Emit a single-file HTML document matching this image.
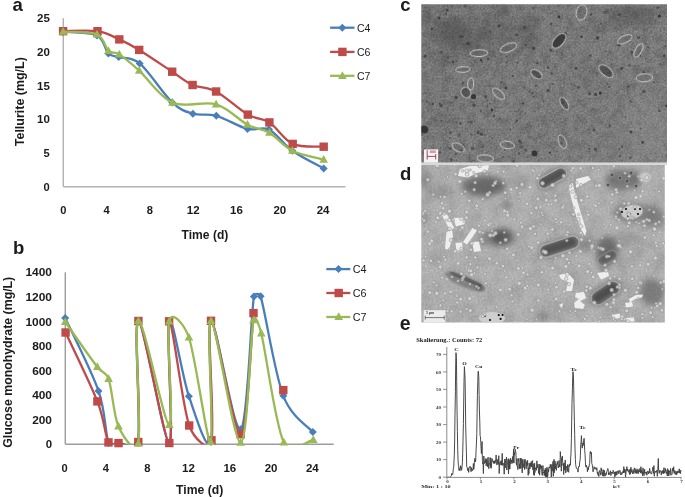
<!DOCTYPE html>
<html><head><meta charset="utf-8"><style>
html,body{margin:0;padding:0;background:#fff;}
body{width:685px;height:497px;overflow:hidden;position:relative;font-family:"Liberation Sans",sans-serif;}
svg{position:absolute;left:0;top:0;will-change:transform;}
</style></head><body>
<svg width="685" height="497" viewBox="0 0 685 497">
<defs><filter id="gsoft" x="0" y="0" width="100%" height="100%"><feGaussianBlur stdDeviation="0.4"/></filter></defs>
<rect x="0" y="0" width="685" height="497" fill="#fff"/>
<g filter="url(#gsoft)">
<rect x="0" y="0" width="685" height="497" fill="#fff"/>
<clipPath id="clipA"><rect x="63.3" y="12.2" width="282.2" height="174.5"/></clipPath>
<line x1="63.3" y1="18.2" x2="63.3" y2="186.7" stroke="#b2b2b2" stroke-width="1.45"/>
<line x1="63.3" y1="186.7" x2="345.5" y2="186.7" stroke="#b2b2b2" stroke-width="1.45"/>
<g clip-path="url(#clipA)"><path d="M63.10,31.70 C68.75,32.32 89.45,31.77 97.00,35.40 C104.55,39.03 104.78,49.88 108.40,53.50 C112.02,57.12 113.50,55.45 118.70,57.10 C123.92,58.75 131.33,56.32 139.70,63.40 C148.62,70.95 163.33,94.02 172.20,102.40 C180.77,110.50 185.55,111.47 192.90,113.70 C200.25,115.93 207.20,113.27 216.30,115.80 C225.40,118.33 238.72,126.62 247.50,128.90 C256.28,131.18 261.53,125.87 269.00,129.50 C276.47,133.13 283.18,144.22 292.30,150.70 C301.42,157.18 318.47,165.45 323.70,168.40" fill="none" stroke="#4a7ebb" stroke-width="2.3" stroke-linejoin="round" stroke-linecap="round"/></g>
<path d="M63.10,27.70 L67.10,31.70 L63.10,35.70 L59.10,31.70 Z" fill="#4a7ebb"/>
<path d="M97.00,31.40 L101.00,35.40 L97.00,39.40 L93.00,35.40 Z" fill="#4a7ebb"/>
<path d="M108.40,49.50 L112.40,53.50 L108.40,57.50 L104.40,53.50 Z" fill="#4a7ebb"/>
<path d="M118.70,53.10 L122.70,57.10 L118.70,61.10 L114.70,57.10 Z" fill="#4a7ebb"/>
<path d="M139.70,59.40 L143.70,63.40 L139.70,67.40 L135.70,63.40 Z" fill="#4a7ebb"/>
<path d="M172.20,98.40 L176.20,102.40 L172.20,106.40 L168.20,102.40 Z" fill="#4a7ebb"/>
<path d="M192.90,109.70 L196.90,113.70 L192.90,117.70 L188.90,113.70 Z" fill="#4a7ebb"/>
<path d="M216.30,111.80 L220.30,115.80 L216.30,119.80 L212.30,115.80 Z" fill="#4a7ebb"/>
<path d="M247.50,124.90 L251.50,128.90 L247.50,132.90 L243.50,128.90 Z" fill="#4a7ebb"/>
<path d="M269.00,125.50 L273.00,129.50 L269.00,133.50 L265.00,129.50 Z" fill="#4a7ebb"/>
<path d="M292.30,146.70 L296.30,150.70 L292.30,154.70 L288.30,150.70 Z" fill="#4a7ebb"/>
<path d="M323.70,164.40 L327.70,168.40 L323.70,172.40 L319.70,168.40 Z" fill="#4a7ebb"/>
<g clip-path="url(#clipA)"><path d="M63.10,31.20 C68.83,31.20 88.13,29.83 97.50,31.20 C106.87,32.57 112.35,36.28 119.30,39.40 C126.25,42.52 130.38,44.52 139.20,49.90 C148.02,55.28 163.30,65.85 172.20,71.70 C181.10,77.55 185.28,81.70 192.60,85.00 C199.92,88.30 206.90,86.57 216.10,91.50 C225.30,96.43 238.92,109.45 247.80,114.60 C256.68,119.75 261.92,117.52 269.40,122.40 C276.88,127.28 283.65,139.85 292.70,143.90 C301.75,147.95 318.53,146.23 323.70,146.70" fill="none" stroke="#be4b48" stroke-width="2.3" stroke-linejoin="round" stroke-linecap="round"/></g>
<rect x="58.90" y="27.00" width="8.40" height="8.40" fill="#be4b48"/>
<rect x="93.30" y="27.00" width="8.40" height="8.40" fill="#be4b48"/>
<rect x="115.10" y="35.20" width="8.40" height="8.40" fill="#be4b48"/>
<rect x="135.00" y="45.70" width="8.40" height="8.40" fill="#be4b48"/>
<rect x="168.00" y="67.50" width="8.40" height="8.40" fill="#be4b48"/>
<rect x="188.40" y="80.80" width="8.40" height="8.40" fill="#be4b48"/>
<rect x="211.90" y="87.30" width="8.40" height="8.40" fill="#be4b48"/>
<rect x="243.60" y="110.40" width="8.40" height="8.40" fill="#be4b48"/>
<rect x="265.20" y="118.20" width="8.40" height="8.40" fill="#be4b48"/>
<rect x="288.50" y="139.70" width="8.40" height="8.40" fill="#be4b48"/>
<rect x="319.50" y="142.50" width="8.40" height="8.40" fill="#be4b48"/>
<g clip-path="url(#clipA)"><path d="M63.10,31.70 C68.75,32.17 89.45,31.32 97.00,34.50 C104.55,37.68 104.68,47.48 108.40,50.80 C112.12,54.12 114.48,51.29 119.30,54.40 C124.43,57.72 130.35,62.67 139.20,70.70 C148.05,78.73 159.58,97.00 172.40,102.60 C185.22,108.20 203.58,100.62 216.10,104.30 C228.62,107.98 238.62,119.97 247.50,124.70 C256.38,129.43 261.93,128.37 269.40,132.70 C276.87,137.03 283.25,146.22 292.30,150.70 C301.35,155.18 318.47,158.12 323.70,159.60" fill="none" stroke="#98b954" stroke-width="2.3" stroke-linejoin="round" stroke-linecap="round"/></g>
<path d="M63.10,27.06 L67.40,34.80 L58.80,34.80 Z" fill="#98b954"/>
<path d="M97.00,29.86 L101.30,37.60 L92.70,37.60 Z" fill="#98b954"/>
<path d="M108.40,46.16 L112.70,53.90 L104.10,53.90 Z" fill="#98b954"/>
<path d="M119.30,49.76 L123.60,57.50 L115.00,57.50 Z" fill="#98b954"/>
<path d="M139.20,66.06 L143.50,73.80 L134.90,73.80 Z" fill="#98b954"/>
<path d="M172.40,97.96 L176.70,105.70 L168.10,105.70 Z" fill="#98b954"/>
<path d="M216.10,99.66 L220.40,107.40 L211.80,107.40 Z" fill="#98b954"/>
<path d="M247.50,120.06 L251.80,127.80 L243.20,127.80 Z" fill="#98b954"/>
<path d="M269.40,128.06 L273.70,135.80 L265.10,135.80 Z" fill="#98b954"/>
<path d="M292.30,146.06 L296.60,153.80 L288.00,153.80 Z" fill="#98b954"/>
<path d="M323.70,154.96 L328.00,162.70 L319.40,162.70 Z" fill="#98b954"/>
<text x="49.80" y="190.80" font-family="Liberation Sans" font-size="11.50" font-weight="bold" text-anchor="end" fill="#1a1a1a" textLength="6.20" lengthAdjust="spacingAndGlyphs" >0</text>
<text x="49.80" y="157.10" font-family="Liberation Sans" font-size="11.50" font-weight="bold" text-anchor="end" fill="#1a1a1a" textLength="6.20" lengthAdjust="spacingAndGlyphs" >5</text>
<text x="49.80" y="123.40" font-family="Liberation Sans" font-size="11.50" font-weight="bold" text-anchor="end" fill="#1a1a1a" textLength="12.80" lengthAdjust="spacingAndGlyphs" >10</text>
<text x="49.80" y="89.70" font-family="Liberation Sans" font-size="11.50" font-weight="bold" text-anchor="end" fill="#1a1a1a" textLength="12.80" lengthAdjust="spacingAndGlyphs" >15</text>
<text x="49.80" y="56.00" font-family="Liberation Sans" font-size="11.50" font-weight="bold" text-anchor="end" fill="#1a1a1a" textLength="12.80" lengthAdjust="spacingAndGlyphs" >20</text>
<text x="49.80" y="22.30" font-family="Liberation Sans" font-size="11.50" font-weight="bold" text-anchor="end" fill="#1a1a1a" textLength="12.80" lengthAdjust="spacingAndGlyphs" >25</text>
<text x="63.40" y="213.60" font-family="Liberation Sans" font-size="11.50" font-weight="bold" text-anchor="middle" fill="#1a1a1a" textLength="6.20" lengthAdjust="spacingAndGlyphs" >0</text>
<text x="106.68" y="213.60" font-family="Liberation Sans" font-size="11.50" font-weight="bold" text-anchor="middle" fill="#1a1a1a" textLength="6.20" lengthAdjust="spacingAndGlyphs" >4</text>
<text x="149.96" y="213.60" font-family="Liberation Sans" font-size="11.50" font-weight="bold" text-anchor="middle" fill="#1a1a1a" textLength="6.20" lengthAdjust="spacingAndGlyphs" >8</text>
<text x="193.24" y="213.60" font-family="Liberation Sans" font-size="11.50" font-weight="bold" text-anchor="middle" fill="#1a1a1a" textLength="12.80" lengthAdjust="spacingAndGlyphs" >12</text>
<text x="236.52" y="213.60" font-family="Liberation Sans" font-size="11.50" font-weight="bold" text-anchor="middle" fill="#1a1a1a" textLength="12.80" lengthAdjust="spacingAndGlyphs" >16</text>
<text x="279.80" y="213.60" font-family="Liberation Sans" font-size="11.50" font-weight="bold" text-anchor="middle" fill="#1a1a1a" textLength="12.80" lengthAdjust="spacingAndGlyphs" >20</text>
<text x="323.08" y="213.60" font-family="Liberation Sans" font-size="11.50" font-weight="bold" text-anchor="middle" fill="#1a1a1a" textLength="12.80" lengthAdjust="spacingAndGlyphs" >24</text>
<text x="181.60" y="239.30" font-family="Liberation Sans" font-size="12.20" font-weight="bold" text-anchor="start" fill="#1a1a1a" textLength="46.70" lengthAdjust="spacingAndGlyphs" >Time (d)</text>
<text x="0.00" y="0.00" font-family="Liberation Sans" font-size="12.20" font-weight="bold" text-anchor="middle" fill="#1a1a1a" textLength="89.00" lengthAdjust="spacingAndGlyphs" transform="translate(24.2,101.7) rotate(-90)">Tellurite (mg/L)</text>
<line x1="330.1" y1="27.7" x2="354.5" y2="27.7" stroke="#4a7ebb" stroke-width="2.3"/>
<path d="M342.30,23.70 L346.30,27.70 L342.30,31.70 L338.30,27.70 Z" fill="#4a7ebb"/>
<text x="356.90" y="31.60" font-family="Liberation Sans" font-size="11.00" font-weight="normal" text-anchor="start" fill="#1a1a1a" textLength="13.50" lengthAdjust="spacingAndGlyphs" >C4</text>
<line x1="330.1" y1="51.9" x2="354.5" y2="51.9" stroke="#be4b48" stroke-width="2.3"/>
<rect x="338.20" y="47.70" width="8.40" height="8.40" fill="#be4b48"/>
<text x="356.90" y="55.80" font-family="Liberation Sans" font-size="11.00" font-weight="normal" text-anchor="start" fill="#1a1a1a" textLength="13.50" lengthAdjust="spacingAndGlyphs" >C6</text>
<line x1="330.1" y1="75.8" x2="354.5" y2="75.8" stroke="#98b954" stroke-width="2.3"/>
<path d="M342.40,71.16 L346.70,78.90 L338.10,78.90 Z" fill="#98b954"/>
<text x="356.90" y="79.70" font-family="Liberation Sans" font-size="11.00" font-weight="normal" text-anchor="start" fill="#1a1a1a" textLength="13.50" lengthAdjust="spacingAndGlyphs" >C7</text>
<text x="12.40" y="10.70" font-family="Liberation Sans" font-size="18.50" font-weight="bold" text-anchor="start" fill="#1a1a1a" >a</text>
<clipPath id="clipB"><rect x="65.3" y="266.3" width="268.4" height="177.9"/></clipPath>
<line x1="65.3" y1="272.3" x2="65.3" y2="444.2" stroke="#9c9c9c" stroke-width="1.45"/>
<line x1="65.3" y1="444.2" x2="333.7" y2="444.2" stroke="#9c9c9c" stroke-width="1.45"/>
<g clip-path="url(#clipB)"><path d="M65.20,318.00 C70.75,330.15 91.27,370.07 98.50,390.90 C105.73,411.73 105.25,434.32 108.60,443.00 C110.40,447.66 113.70,443.00 118.60,443.00 C123.50,443.00 136.45,452.57 138.00,443.00 C141.30,422.67 133.20,321.00 138.40,321.00 C143.60,321.00 164.07,443.00 169.20,443.00 C174.33,443.00 165.92,328.80 169.20,321.00 C172.48,313.20 181.93,376.03 188.90,396.20 C195.87,416.37 207.32,454.53 211.00,442.00 C214.68,429.47 206.07,323.12 211.00,321.00 C215.93,318.88 233.45,433.37 240.60,429.30 C247.75,425.23 250.57,318.78 253.90,296.60 C254.40,293.28 259.65,292.98 260.60,296.20 C265.50,312.73 274.60,373.17 283.30,395.80 C291.68,417.59 307.88,425.97 312.80,432.00" fill="none" stroke="#4a7ebb" stroke-width="2.3" stroke-linejoin="round" stroke-linecap="round"/></g>
<path d="M65.20,314.00 L69.20,318.00 L65.20,322.00 L61.20,318.00 Z" fill="#4a7ebb"/>
<path d="M98.50,386.90 L102.50,390.90 L98.50,394.90 L94.50,390.90 Z" fill="#4a7ebb"/>
<path d="M108.60,439.00 L112.60,443.00 L108.60,447.00 L104.60,443.00 Z" fill="#4a7ebb"/>
<path d="M118.60,439.00 L122.60,443.00 L118.60,447.00 L114.60,443.00 Z" fill="#4a7ebb"/>
<path d="M138.00,439.00 L142.00,443.00 L138.00,447.00 L134.00,443.00 Z" fill="#4a7ebb"/>
<path d="M138.40,317.00 L142.40,321.00 L138.40,325.00 L134.40,321.00 Z" fill="#4a7ebb"/>
<path d="M169.20,439.00 L173.20,443.00 L169.20,447.00 L165.20,443.00 Z" fill="#4a7ebb"/>
<path d="M169.20,317.00 L173.20,321.00 L169.20,325.00 L165.20,321.00 Z" fill="#4a7ebb"/>
<path d="M188.90,392.20 L192.90,396.20 L188.90,400.20 L184.90,396.20 Z" fill="#4a7ebb"/>
<path d="M211.00,438.00 L215.00,442.00 L211.00,446.00 L207.00,442.00 Z" fill="#4a7ebb"/>
<path d="M211.00,317.00 L215.00,321.00 L211.00,325.00 L207.00,321.00 Z" fill="#4a7ebb"/>
<path d="M240.60,425.30 L244.60,429.30 L240.60,433.30 L236.60,429.30 Z" fill="#4a7ebb"/>
<path d="M253.90,292.60 L257.90,296.60 L253.90,300.60 L249.90,296.60 Z" fill="#4a7ebb"/>
<path d="M260.60,292.20 L264.60,296.20 L260.60,300.20 L256.60,296.20 Z" fill="#4a7ebb"/>
<path d="M283.30,391.80 L287.30,395.80 L283.30,399.80 L279.30,395.80 Z" fill="#4a7ebb"/>
<path d="M312.80,428.00 L316.80,432.00 L312.80,436.00 L308.80,432.00 Z" fill="#4a7ebb"/>
<g clip-path="url(#clipB)"><path d="M65.60,332.50 C70.90,343.98 90.25,383.08 97.40,401.40 C104.55,419.72 104.98,435.45 108.50,442.40 C110.76,446.87 113.53,443.17 118.50,443.10 C123.47,443.03 136.71,451.79 138.30,442.00 C141.62,421.65 133.23,320.83 138.40,321.00 C143.57,321.17 164.18,442.95 169.30,443.00 C174.42,443.05 165.78,324.22 169.10,321.30 C172.42,318.38 182.13,405.67 189.20,425.50 C193.69,438.11 208.77,453.40 211.50,440.30 C215.13,422.85 206.15,321.82 211.00,320.80 C215.85,319.78 233.52,435.48 240.60,434.20 C247.68,432.92 251.35,333.28 253.50,313.10" fill="none" stroke="#be4b48" stroke-width="2.3" stroke-linejoin="round" stroke-linecap="round"/></g>
<rect x="61.40" y="328.30" width="8.40" height="8.40" fill="#be4b48"/>
<rect x="93.20" y="397.20" width="8.40" height="8.40" fill="#be4b48"/>
<rect x="104.30" y="438.20" width="8.40" height="8.40" fill="#be4b48"/>
<rect x="114.30" y="438.90" width="8.40" height="8.40" fill="#be4b48"/>
<rect x="134.10" y="437.80" width="8.40" height="8.40" fill="#be4b48"/>
<rect x="134.20" y="316.80" width="8.40" height="8.40" fill="#be4b48"/>
<rect x="165.10" y="438.80" width="8.40" height="8.40" fill="#be4b48"/>
<rect x="164.90" y="317.10" width="8.40" height="8.40" fill="#be4b48"/>
<rect x="185.00" y="421.30" width="8.40" height="8.40" fill="#be4b48"/>
<rect x="207.30" y="436.10" width="8.40" height="8.40" fill="#be4b48"/>
<rect x="206.80" y="316.60" width="8.40" height="8.40" fill="#be4b48"/>
<rect x="236.40" y="430.00" width="8.40" height="8.40" fill="#be4b48"/>
<rect x="249.30" y="308.90" width="8.40" height="8.40" fill="#be4b48"/>
<rect x="279.10" y="385.90" width="8.40" height="8.40" fill="#be4b48"/>
<g clip-path="url(#clipB)"><path d="M65.20,322.00 C70.55,329.50 90.07,357.53 97.30,367.00 C102.26,373.49 105.86,371.10 108.60,378.80 C112.13,388.72 113.55,415.75 118.50,426.50 C123.45,437.25 135.89,456.06 138.30,443.30 C141.62,425.72 133.23,324.05 138.40,321.00 C143.57,317.95 164.17,424.95 169.30,425.00 C174.43,425.05 165.93,335.88 169.20,321.30 C171.99,308.86 184.75,325.44 188.90,337.50 C195.82,357.62 207.02,444.75 210.70,442.00 C214.38,439.25 206.02,320.88 211.00,321.00 C215.98,321.12 233.52,442.85 240.60,442.70 C247.68,442.55 250.05,338.30 253.50,320.10 C254.94,312.48 259.44,325.98 261.30,333.50 C266.35,353.88 275.13,424.65 283.80,442.40 C290.29,455.70 308.38,440.40 313.30,440.00" fill="none" stroke="#98b954" stroke-width="2.3" stroke-linejoin="round" stroke-linecap="round"/></g>
<path d="M65.20,317.36 L69.50,325.10 L60.90,325.10 Z" fill="#98b954"/>
<path d="M97.30,362.36 L101.60,370.10 L93.00,370.10 Z" fill="#98b954"/>
<path d="M108.60,374.16 L112.90,381.90 L104.30,381.90 Z" fill="#98b954"/>
<path d="M118.50,421.86 L122.80,429.60 L114.20,429.60 Z" fill="#98b954"/>
<path d="M138.30,438.66 L142.60,446.40 L134.00,446.40 Z" fill="#98b954"/>
<path d="M138.40,316.36 L142.70,324.10 L134.10,324.10 Z" fill="#98b954"/>
<path d="M169.30,420.36 L173.60,428.10 L165.00,428.10 Z" fill="#98b954"/>
<path d="M169.20,316.66 L173.50,324.40 L164.90,324.40 Z" fill="#98b954"/>
<path d="M188.90,332.86 L193.20,340.60 L184.60,340.60 Z" fill="#98b954"/>
<path d="M210.70,437.36 L215.00,445.10 L206.40,445.10 Z" fill="#98b954"/>
<path d="M211.00,316.36 L215.30,324.10 L206.70,324.10 Z" fill="#98b954"/>
<path d="M240.60,438.06 L244.90,445.80 L236.30,445.80 Z" fill="#98b954"/>
<path d="M253.50,315.46 L257.80,323.20 L249.20,323.20 Z" fill="#98b954"/>
<path d="M261.30,328.86 L265.60,336.60 L257.00,336.60 Z" fill="#98b954"/>
<path d="M283.80,437.76 L288.10,445.50 L279.50,445.50 Z" fill="#98b954"/>
<path d="M313.30,435.36 L317.60,443.10 L309.00,443.10 Z" fill="#98b954"/>
<text x="52.00" y="448.30" font-family="Liberation Sans" font-size="11.50" font-weight="bold" text-anchor="end" fill="#1a1a1a" textLength="6.35" lengthAdjust="spacingAndGlyphs" >0</text>
<text x="52.00" y="423.74" font-family="Liberation Sans" font-size="11.50" font-weight="bold" text-anchor="end" fill="#1a1a1a" textLength="19.85" lengthAdjust="spacingAndGlyphs" >200</text>
<text x="52.00" y="399.19" font-family="Liberation Sans" font-size="11.50" font-weight="bold" text-anchor="end" fill="#1a1a1a" textLength="19.85" lengthAdjust="spacingAndGlyphs" >400</text>
<text x="52.00" y="374.63" font-family="Liberation Sans" font-size="11.50" font-weight="bold" text-anchor="end" fill="#1a1a1a" textLength="19.85" lengthAdjust="spacingAndGlyphs" >600</text>
<text x="52.00" y="350.07" font-family="Liberation Sans" font-size="11.50" font-weight="bold" text-anchor="end" fill="#1a1a1a" textLength="19.85" lengthAdjust="spacingAndGlyphs" >800</text>
<text x="52.00" y="325.51" font-family="Liberation Sans" font-size="11.50" font-weight="bold" text-anchor="end" fill="#1a1a1a" textLength="26.60" lengthAdjust="spacingAndGlyphs" >1000</text>
<text x="52.00" y="300.96" font-family="Liberation Sans" font-size="11.50" font-weight="bold" text-anchor="end" fill="#1a1a1a" textLength="26.60" lengthAdjust="spacingAndGlyphs" >1200</text>
<text x="52.00" y="276.40" font-family="Liberation Sans" font-size="11.50" font-weight="bold" text-anchor="end" fill="#1a1a1a" textLength="26.60" lengthAdjust="spacingAndGlyphs" >1400</text>
<text x="64.70" y="471.60" font-family="Liberation Sans" font-size="11.50" font-weight="bold" text-anchor="middle" fill="#1a1a1a" textLength="6.20" lengthAdjust="spacingAndGlyphs" >0</text>
<text x="105.97" y="471.60" font-family="Liberation Sans" font-size="11.50" font-weight="bold" text-anchor="middle" fill="#1a1a1a" textLength="6.20" lengthAdjust="spacingAndGlyphs" >4</text>
<text x="147.24" y="471.60" font-family="Liberation Sans" font-size="11.50" font-weight="bold" text-anchor="middle" fill="#1a1a1a" textLength="6.20" lengthAdjust="spacingAndGlyphs" >8</text>
<text x="188.51" y="471.60" font-family="Liberation Sans" font-size="11.50" font-weight="bold" text-anchor="middle" fill="#1a1a1a" textLength="12.80" lengthAdjust="spacingAndGlyphs" >12</text>
<text x="229.78" y="471.60" font-family="Liberation Sans" font-size="11.50" font-weight="bold" text-anchor="middle" fill="#1a1a1a" textLength="12.80" lengthAdjust="spacingAndGlyphs" >16</text>
<text x="271.05" y="471.60" font-family="Liberation Sans" font-size="11.50" font-weight="bold" text-anchor="middle" fill="#1a1a1a" textLength="12.80" lengthAdjust="spacingAndGlyphs" >20</text>
<text x="312.32" y="471.60" font-family="Liberation Sans" font-size="11.50" font-weight="bold" text-anchor="middle" fill="#1a1a1a" textLength="12.80" lengthAdjust="spacingAndGlyphs" >24</text>
<text x="176.10" y="493.60" font-family="Liberation Sans" font-size="12.20" font-weight="bold" text-anchor="start" fill="#1a1a1a" textLength="47.20" lengthAdjust="spacingAndGlyphs" >Time (d)</text>
<text x="0.00" y="0.00" font-family="Liberation Sans" font-size="12.20" font-weight="bold" text-anchor="middle" fill="#1a1a1a" textLength="171.00" lengthAdjust="spacingAndGlyphs" transform="translate(12.4,362.3) rotate(-90)">Glucose monohydrate (mg/L)</text>
<line x1="326.3" y1="269.1" x2="350.3" y2="269.1" stroke="#4a7ebb" stroke-width="2.3"/>
<path d="M338.50,265.10 L342.50,269.10 L338.50,273.10 L334.50,269.10 Z" fill="#4a7ebb"/>
<text x="352.70" y="273.00" font-family="Liberation Sans" font-size="11.00" font-weight="normal" text-anchor="start" fill="#1a1a1a" textLength="13.80" lengthAdjust="spacingAndGlyphs" >C4</text>
<line x1="326.3" y1="293.0" x2="350.3" y2="293.0" stroke="#be4b48" stroke-width="2.3"/>
<rect x="334.50" y="288.80" width="8.40" height="8.40" fill="#be4b48"/>
<text x="352.70" y="296.90" font-family="Liberation Sans" font-size="11.00" font-weight="normal" text-anchor="start" fill="#1a1a1a" textLength="13.80" lengthAdjust="spacingAndGlyphs" >C6</text>
<line x1="326.3" y1="317.0" x2="350.3" y2="317.0" stroke="#98b954" stroke-width="2.3"/>
<path d="M338.70,312.36 L343.00,320.10 L334.40,320.10 Z" fill="#98b954"/>
<text x="352.70" y="320.90" font-family="Liberation Sans" font-size="11.00" font-weight="normal" text-anchor="start" fill="#1a1a1a" textLength="13.80" lengthAdjust="spacingAndGlyphs" >C7</text>
<text x="12.90" y="253.60" font-family="Liberation Sans" font-size="18.50" font-weight="bold" text-anchor="start" fill="#1a1a1a" >b</text>
<text x="400.30" y="10.90" font-family="Liberation Sans" font-size="18.50" font-weight="bold" text-anchor="start" fill="#1a1a1a" >c</text>
<text x="400.00" y="180.30" font-family="Liberation Sans" font-size="18.50" font-weight="bold" text-anchor="start" fill="#1a1a1a" >d</text>
<text x="399.80" y="329.90" font-family="Liberation Sans" font-size="19.50" font-weight="bold" text-anchor="start" fill="#1a1a1a" >e</text>
<defs><filter id="blurS" x="-5%" y="-5%" width="110%" height="110%"><feGaussianBlur stdDeviation="0.35"/></filter><filter id="bl03" x="-20%" y="-20%" width="140%" height="140%"><feGaussianBlur stdDeviation="0.35"/></filter>
<filter id="bl05" x="-30%" y="-30%" width="160%" height="160%"><feGaussianBlur stdDeviation="0.55"/></filter>
<filter id="bl1" x="-30%" y="-30%" width="160%" height="160%"><feGaussianBlur stdDeviation="1"/></filter>
<filter id="bl2" x="-40%" y="-40%" width="180%" height="180%"><feGaussianBlur stdDeviation="2"/></filter>
<filter id="bl3" x="-50%" y="-50%" width="200%" height="200%"><feGaussianBlur stdDeviation="3"/></filter>
<filter id="bl6" x="-60%" y="-60%" width="220%" height="220%"><feGaussianBlur stdDeviation="6"/></filter>
<linearGradient id="gradC" x1="0" y1="0" x2="1" y2="1"><stop offset="0" stop-color="#000" stop-opacity="0.06"/><stop offset="0.5" stop-color="#000" stop-opacity="0"/><stop offset="1" stop-color="#fff" stop-opacity="0.06"/></linearGradient>
<filter id="grainC" x="0" y="0" width="100%" height="100%" color-interpolation-filters="sRGB"><feTurbulence type="fractalNoise" baseFrequency="0.55" numOctaves="2" seed="2"/><feColorMatrix type="matrix" values="0.24 0 0 0 0.377  0.24 0 0 0 0.377  0.24 0 0 0 0.377  0 0 0 0 1"/><feGaussianBlur stdDeviation="0.65"/></filter>
<filter id="grainD" x="0" y="0" width="100%" height="100%" color-interpolation-filters="sRGB"><feTurbulence type="fractalNoise" baseFrequency="0.5" numOctaves="2" seed="4"/><feColorMatrix type="matrix" values="0.14 0 0 0 0.625  0.14 0 0 0 0.625  0.14 0 0 0 0.625  0 0 0 0 1"/><feGaussianBlur stdDeviation="0.6"/></filter>
<filter id="texC" x="0" y="0" width="100%" height="100%"><feTurbulence type="fractalNoise" baseFrequency="0.12" numOctaves="3" seed="3"/><feColorMatrix type="matrix" values="0 0 0 0 0  0 0 0 0 0  0 0 0 0 0  1.4 0 0 0 -0.55"/></filter>
<filter id="speckC" x="0" y="0" width="100%" height="100%"><feTurbulence type="fractalNoise" baseFrequency="0.22" numOctaves="2" seed="5"/><feColorMatrix type="matrix" values="0 0 0 0 0  0 0 0 0 0  0 0 0 0 0  3.0 0 0 0 -1.9"/><feGaussianBlur stdDeviation="0.8"/></filter>
<filter id="texD" x="0" y="0" width="100%" height="100%"><feTurbulence type="fractalNoise" baseFrequency="0.06" numOctaves="3" seed="9"/><feColorMatrix type="matrix" values="0 0 0 0 0  0 0 0 0 0  0 0 0 0 0  1.2 0 0 0 -0.45"/></filter></defs><clipPath id="clipC"><rect x="421.3" y="4.2" width="245.7" height="158.5"/></clipPath>
<g clip-path="url(#clipC)">
<rect x="421.3" y="4.2" width="245.7" height="158.5" fill="#7c7c7c" filter="url(#grainC)"/>
<rect x="421.3" y="4.2" width="245.7" height="158.5" fill="#000" filter="url(#texC)" opacity="0.22"/>
<rect x="421.3" y="4.2" width="245.7" height="158.5" fill="#000" filter="url(#speckC)" opacity="0.35"/>
<rect x="421.3" y="4.2" width="245.7" height="158.5" fill="url(#gradC)"/>
<ellipse cx="450.0" cy="32.0" rx="18.0" ry="12.0" transform="rotate(0.0 450.0 32.0)" fill="#3c3c3c" stroke="none" stroke-width="1.00" opacity="0.30" filter="url(#bl3)"/>
<ellipse cx="484.0" cy="34.0" rx="8.0" ry="5.0" transform="rotate(0.0 484.0 34.0)" fill="#3c3c3c" stroke="none" stroke-width="1.00" opacity="0.30" filter="url(#bl3)"/>
<ellipse cx="502.0" cy="11.0" rx="7.0" ry="5.0" transform="rotate(0.0 502.0 11.0)" fill="#3c3c3c" stroke="none" stroke-width="1.00" opacity="0.25" filter="url(#bl3)"/>
<ellipse cx="529.0" cy="33.0" rx="10.0" ry="20.0" transform="rotate(0.0 529.0 33.0)" fill="#3c3c3c" stroke="none" stroke-width="1.00" opacity="0.22" filter="url(#bl3)"/>
<ellipse cx="426.0" cy="19.0" rx="6.0" ry="5.0" transform="rotate(0.0 426.0 19.0)" fill="#3c3c3c" stroke="none" stroke-width="1.00" opacity="0.30" filter="url(#bl3)"/>
<ellipse cx="632.0" cy="16.0" rx="22.0" ry="9.0" transform="rotate(0.0 632.0 16.0)" fill="#3c3c3c" stroke="none" stroke-width="1.00" opacity="0.18" filter="url(#bl3)"/>
<ellipse cx="470.0" cy="45.0" rx="10.0" ry="7.0" transform="rotate(0.0 470.0 45.0)" fill="#3c3c3c" stroke="none" stroke-width="1.00" opacity="0.20" filter="url(#bl3)"/>
<ellipse cx="585.0" cy="70.0" rx="20.0" ry="12.0" transform="rotate(0.0 585.0 70.0)" fill="#3c3c3c" stroke="none" stroke-width="1.00" opacity="0.08" filter="url(#bl3)"/>
<ellipse cx="445.0" cy="120.0" rx="14.0" ry="12.0" transform="rotate(0.0 445.0 120.0)" fill="#3c3c3c" stroke="none" stroke-width="1.00" opacity="0.10" filter="url(#bl3)"/>
<ellipse cx="600.0" cy="25.0" rx="12.0" ry="8.0" transform="rotate(0.0 600.0 25.0)" fill="#3c3c3c" stroke="none" stroke-width="1.00" opacity="0.12" filter="url(#bl3)"/>
<ellipse cx="440.0" cy="60.0" rx="8.0" ry="8.0" transform="rotate(0.0 440.0 60.0)" fill="#3c3c3c" stroke="none" stroke-width="1.00" opacity="0.15" filter="url(#bl3)"/>
<rect x="441" y="18" width="75" height="40" fill="#333" opacity="0.12" filter="url(#bl3)"/>
<rect x="610" y="7" width="45" height="18" fill="#333" opacity="0.15" filter="url(#bl3)"/>
<ellipse cx="645.0" cy="125.0" rx="25.0" ry="35.0" transform="rotate(0.0 645.0 125.0)" fill="#b8b8b8" stroke="none" stroke-width="1.00" opacity="0.10" filter="url(#bl6)"/>
<ellipse cx="548.0" cy="30.0" rx="6.0" ry="20.0" transform="rotate(0.0 548.0 30.0)" fill="#b8b8b8" stroke="none" stroke-width="1.00" opacity="0.10" filter="url(#bl6)"/>
<circle cx="532.4" cy="92.9" r="1.2" fill="#383838" opacity="0.63" filter="url(#bl05)"/>
<circle cx="565.6" cy="33.5" r="1.4" fill="#383838" opacity="0.73" filter="url(#bl05)"/>
<circle cx="510.4" cy="129.4" r="0.8" fill="#383838" opacity="0.79" filter="url(#bl05)"/>
<circle cx="658.3" cy="107.8" r="0.9" fill="#383838" opacity="0.46" filter="url(#bl05)"/>
<circle cx="447.9" cy="57.5" r="1.2" fill="#383838" opacity="0.60" filter="url(#bl05)"/>
<circle cx="628.3" cy="86.5" r="1.2" fill="#383838" opacity="0.68" filter="url(#bl05)"/>
<circle cx="533.7" cy="48.3" r="1.7" fill="#383838" opacity="0.74" filter="url(#bl05)"/>
<circle cx="453.1" cy="61.8" r="1.5" fill="#383838" opacity="0.59" filter="url(#bl05)"/>
<circle cx="629.3" cy="65.5" r="1.6" fill="#383838" opacity="0.45" filter="url(#bl05)"/>
<circle cx="472.8" cy="148.5" r="1.7" fill="#383838" opacity="0.59" filter="url(#bl05)"/>
<circle cx="439.2" cy="104.0" r="1.0" fill="#383838" opacity="0.48" filter="url(#bl05)"/>
<circle cx="503.0" cy="157.0" r="0.9" fill="#383838" opacity="0.54" filter="url(#bl05)"/>
<circle cx="446.1" cy="13.7" r="1.0" fill="#383838" opacity="0.65" filter="url(#bl05)"/>
<circle cx="531.2" cy="34.4" r="0.9" fill="#383838" opacity="0.68" filter="url(#bl05)"/>
<circle cx="451.0" cy="159.5" r="1.5" fill="#383838" opacity="0.56" filter="url(#bl05)"/>
<circle cx="638.7" cy="37.6" r="1.6" fill="#383838" opacity="0.67" filter="url(#bl05)"/>
<circle cx="449.7" cy="138.0" r="1.1" fill="#383838" opacity="0.55" filter="url(#bl05)"/>
<circle cx="439.3" cy="18.5" r="1.0" fill="#383838" opacity="0.66" filter="url(#bl05)"/>
<circle cx="512.6" cy="76.0" r="1.2" fill="#383838" opacity="0.65" filter="url(#bl05)"/>
<circle cx="521.2" cy="142.9" r="1.0" fill="#383838" opacity="0.52" filter="url(#bl05)"/>
<circle cx="525.8" cy="149.9" r="1.3" fill="#383838" opacity="0.60" filter="url(#bl05)"/>
<circle cx="446.8" cy="10.3" r="1.0" fill="#383838" opacity="0.70" filter="url(#bl05)"/>
<circle cx="484.4" cy="134.8" r="1.1" fill="#383838" opacity="0.51" filter="url(#bl05)"/>
<circle cx="482.8" cy="146.7" r="1.4" fill="#383838" opacity="0.55" filter="url(#bl05)"/>
<circle cx="450.9" cy="102.6" r="0.9" fill="#383838" opacity="0.51" filter="url(#bl05)"/>
<circle cx="461.1" cy="150.9" r="1.7" fill="#383838" opacity="0.68" filter="url(#bl05)"/>
<circle cx="425.2" cy="56.1" r="1.6" fill="#383838" opacity="0.70" filter="url(#bl05)"/>
<circle cx="657.9" cy="7.6" r="1.2" fill="#383838" opacity="0.71" filter="url(#bl05)"/>
<circle cx="481.4" cy="134.2" r="1.6" fill="#383838" opacity="0.71" filter="url(#bl05)"/>
<circle cx="594.2" cy="129.9" r="1.1" fill="#383838" opacity="0.69" filter="url(#bl05)"/>
<circle cx="642.6" cy="142.3" r="1.5" fill="#383838" opacity="0.75" filter="url(#bl05)"/>
<circle cx="562.0" cy="103.3" r="1.3" fill="#383838" opacity="0.66" filter="url(#bl05)"/>
<circle cx="441.0" cy="105.5" r="1.6" fill="#383838" opacity="0.70" filter="url(#bl05)"/>
<circle cx="516.7" cy="120.7" r="1.2" fill="#383838" opacity="0.74" filter="url(#bl05)"/>
<circle cx="487.4" cy="106.4" r="1.0" fill="#383838" opacity="0.69" filter="url(#bl05)"/>
<circle cx="543.5" cy="101.6" r="1.0" fill="#383838" opacity="0.45" filter="url(#bl05)"/>
<circle cx="440.0" cy="152.5" r="1.4" fill="#383838" opacity="0.60" filter="url(#bl05)"/>
<circle cx="640.4" cy="56.0" r="1.0" fill="#383838" opacity="0.60" filter="url(#bl05)"/>
<circle cx="619.3" cy="149.1" r="1.1" fill="#383838" opacity="0.65" filter="url(#bl05)"/>
<circle cx="499.1" cy="25.8" r="1.6" fill="#383838" opacity="0.75" filter="url(#bl05)"/>
<circle cx="439.9" cy="103.1" r="1.0" fill="#383838" opacity="0.52" filter="url(#bl05)"/>
<circle cx="523.0" cy="103.4" r="1.1" fill="#383838" opacity="0.74" filter="url(#bl05)"/>
<circle cx="424.8" cy="148.9" r="0.8" fill="#383838" opacity="0.70" filter="url(#bl05)"/>
<circle cx="561.5" cy="53.2" r="0.8" fill="#383838" opacity="0.50" filter="url(#bl05)"/>
<circle cx="533.1" cy="8.1" r="1.0" fill="#383838" opacity="0.50" filter="url(#bl05)"/>
<circle cx="432.8" cy="103.9" r="1.4" fill="#383838" opacity="0.68" filter="url(#bl05)"/>
<circle cx="619.7" cy="156.1" r="1.0" fill="#383838" opacity="0.62" filter="url(#bl05)"/>
<circle cx="465.2" cy="5.9" r="1.4" fill="#383838" opacity="0.51" filter="url(#bl05)"/>
<circle cx="488.2" cy="59.0" r="1.3" fill="#383838" opacity="0.67" filter="url(#bl05)"/>
<circle cx="607.1" cy="66.6" r="1.6" fill="#383838" opacity="0.48" filter="url(#bl05)"/>
<circle cx="471.2" cy="122.1" r="1.6" fill="#383838" opacity="0.58" filter="url(#bl05)"/>
<circle cx="561.1" cy="143.6" r="1.6" fill="#383838" opacity="0.61" filter="url(#bl05)"/>
<circle cx="581.3" cy="36.7" r="1.5" fill="#383838" opacity="0.67" filter="url(#bl05)"/>
<circle cx="597.6" cy="38.0" r="1.7" fill="#383838" opacity="0.79" filter="url(#bl05)"/>
<circle cx="521.4" cy="147.1" r="1.1" fill="#383838" opacity="0.48" filter="url(#bl05)"/>
<circle cx="529.6" cy="91.4" r="1.2" fill="#383838" opacity="0.46" filter="url(#bl05)"/>
<circle cx="620.1" cy="14.4" r="1.0" fill="#383838" opacity="0.57" filter="url(#bl05)"/>
<circle cx="478.1" cy="132.7" r="1.6" fill="#383838" opacity="0.69" filter="url(#bl05)"/>
<circle cx="653.7" cy="82.3" r="0.9" fill="#383838" opacity="0.53" filter="url(#bl05)"/>
<circle cx="550.7" cy="50.2" r="1.4" fill="#383838" opacity="0.63" filter="url(#bl05)"/>
<circle cx="463.2" cy="145.9" r="1.6" fill="#383838" opacity="0.52" filter="url(#bl05)"/>
<circle cx="630.3" cy="157.7" r="1.3" fill="#383838" opacity="0.52" filter="url(#bl05)"/>
<circle cx="553.0" cy="84.0" r="0.8" fill="#383838" opacity="0.79" filter="url(#bl05)"/>
<circle cx="548.1" cy="67.7" r="1.3" fill="#383838" opacity="0.62" filter="url(#bl05)"/>
<circle cx="591.1" cy="14.6" r="1.2" fill="#383838" opacity="0.78" filter="url(#bl05)"/>
<circle cx="648.2" cy="46.9" r="0.9" fill="#383838" opacity="0.60" filter="url(#bl05)"/>
<circle cx="621.7" cy="146.9" r="1.1" fill="#383838" opacity="0.52" filter="url(#bl05)"/>
<circle cx="507.0" cy="56.7" r="1.0" fill="#383838" opacity="0.53" filter="url(#bl05)"/>
<circle cx="590.1" cy="55.3" r="1.4" fill="#383838" opacity="0.49" filter="url(#bl05)"/>
<circle cx="600.9" cy="23.7" r="1.0" fill="#383838" opacity="0.52" filter="url(#bl05)"/>
<circle cx="551.6" cy="73.4" r="1.2" fill="#383838" opacity="0.64" filter="url(#bl05)"/>
<circle cx="460.5" cy="36.6" r="1.4" fill="#383838" opacity="0.64" filter="url(#bl05)"/>
<circle cx="630.5" cy="101.2" r="1.0" fill="#383838" opacity="0.71" filter="url(#bl05)"/>
<circle cx="455.9" cy="154.3" r="1.0" fill="#383838" opacity="0.80" filter="url(#bl05)"/>
<circle cx="501.2" cy="82.4" r="0.9" fill="#383838" opacity="0.74" filter="url(#bl05)"/>
<circle cx="465.6" cy="128.5" r="0.8" fill="#383838" opacity="0.52" filter="url(#bl05)"/>
<circle cx="589.0" cy="148.7" r="0.9" fill="#383838" opacity="0.63" filter="url(#bl05)"/>
<circle cx="607.6" cy="83.9" r="1.0" fill="#383838" opacity="0.47" filter="url(#bl05)"/>
<circle cx="447.4" cy="10.1" r="1.3" fill="#383838" opacity="0.65" filter="url(#bl05)"/>
<circle cx="513.7" cy="161.6" r="1.6" fill="#383838" opacity="0.48" filter="url(#bl05)"/>
<circle cx="436.5" cy="155.0" r="1.5" fill="#383838" opacity="0.56" filter="url(#bl05)"/>
<circle cx="536.0" cy="85.9" r="1.3" fill="#383838" opacity="0.45" filter="url(#bl05)"/>
<circle cx="471.2" cy="134.4" r="1.2" fill="#383838" opacity="0.52" filter="url(#bl05)"/>
<circle cx="519.6" cy="141.2" r="1.4" fill="#383838" opacity="0.75" filter="url(#bl05)"/>
<circle cx="575.9" cy="68.3" r="1.3" fill="#383838" opacity="0.79" filter="url(#bl05)"/>
<circle cx="619.0" cy="45.1" r="1.5" fill="#383838" opacity="0.72" filter="url(#bl05)"/>
<circle cx="621.5" cy="68.5" r="1.6" fill="#383838" opacity="0.69" filter="url(#bl05)"/>
<circle cx="609.8" cy="125.5" r="1.5" fill="#383838" opacity="0.47" filter="url(#bl05)"/>
<circle cx="460.4" cy="123.5" r="1.4" fill="#383838" opacity="0.53" filter="url(#bl05)"/>
<circle cx="493.9" cy="116.0" r="1.3" fill="#383838" opacity="0.59" filter="url(#bl05)"/>
<circle cx="667.0" cy="106.0" r="1.5" fill="#383838" opacity="0.79" filter="url(#bl05)"/>
<circle cx="426.9" cy="101.7" r="1.0" fill="#383838" opacity="0.59" filter="url(#bl05)"/>
<circle cx="433.7" cy="35.2" r="0.9" fill="#383838" opacity="0.54" filter="url(#bl05)"/>
<circle cx="643.8" cy="91.4" r="1.7" fill="#383838" opacity="0.65" filter="url(#bl05)"/>
<circle cx="665.8" cy="105.3" r="0.9" fill="#383838" opacity="0.66" filter="url(#bl05)"/>
<circle cx="607.8" cy="11.4" r="0.9" fill="#383838" opacity="0.62" filter="url(#bl05)"/>
<circle cx="462.9" cy="82.7" r="0.9" fill="#383838" opacity="0.78" filter="url(#bl05)"/>
<circle cx="524.7" cy="87.7" r="1.1" fill="#383838" opacity="0.55" filter="url(#bl05)"/>
<circle cx="500.1" cy="86.3" r="0.8" fill="#383838" opacity="0.54" filter="url(#bl05)"/>
<circle cx="431.8" cy="29.0" r="1.2" fill="#383838" opacity="0.76" filter="url(#bl05)"/>
<circle cx="605.2" cy="12.2" r="1.7" fill="#383838" opacity="0.48" filter="url(#bl05)"/>
<circle cx="643.8" cy="72.3" r="1.7" fill="#383838" opacity="0.54" filter="url(#bl05)"/>
<circle cx="549.9" cy="152.8" r="1.2" fill="#383838" opacity="0.79" filter="url(#bl05)"/>
<circle cx="490.0" cy="103.6" r="1.0" fill="#383838" opacity="0.47" filter="url(#bl05)"/>
<circle cx="551.1" cy="23.9" r="1.4" fill="#383838" opacity="0.61" filter="url(#bl05)"/>
<circle cx="485.7" cy="96.5" r="1.5" fill="#383838" opacity="0.64" filter="url(#bl05)"/>
<circle cx="666.4" cy="155.2" r="1.0" fill="#383838" opacity="0.49" filter="url(#bl05)"/>
<circle cx="640.6" cy="128.5" r="1.1" fill="#383838" opacity="0.55" filter="url(#bl05)"/>
<circle cx="589.6" cy="93.7" r="1.4" fill="#383838" opacity="0.71" filter="url(#bl05)"/>
<circle cx="467.9" cy="43.7" r="1.6" fill="#383838" opacity="0.76" filter="url(#bl05)"/>
<circle cx="468.1" cy="121.8" r="0.9" fill="#383838" opacity="0.64" filter="url(#bl05)"/>
<circle cx="439.1" cy="17.9" r="1.3" fill="#383838" opacity="0.67" filter="url(#bl05)"/>
<circle cx="459.1" cy="135.0" r="1.6" fill="#383838" opacity="0.48" filter="url(#bl05)"/>
<circle cx="450.7" cy="132.5" r="1.5" fill="#383838" opacity="0.52" filter="url(#bl05)"/>
<circle cx="525.6" cy="45.1" r="1.1" fill="#383838" opacity="0.68" filter="url(#bl05)"/>
<circle cx="664.3" cy="55.8" r="1.5" fill="#383838" opacity="0.77" filter="url(#bl05)"/>
<circle cx="517.6" cy="62.7" r="0.9" fill="#383838" opacity="0.65" filter="url(#bl05)"/>
<circle cx="506.6" cy="62.5" r="1.0" fill="#383838" opacity="0.68" filter="url(#bl05)"/>
<circle cx="441.4" cy="52.4" r="1.4" fill="#383838" opacity="0.55" filter="url(#bl05)"/>
<circle cx="456.4" cy="60.9" r="1.1" fill="#383838" opacity="0.49" filter="url(#bl05)"/>
<circle cx="595.6" cy="94.4" r="1.6" fill="#383838" opacity="0.77" filter="url(#bl05)"/>
<circle cx="456.2" cy="97.6" r="1.6" fill="#383838" opacity="0.76" filter="url(#bl05)"/>
<circle cx="482.3" cy="61.5" r="1.1" fill="#383838" opacity="0.59" filter="url(#bl05)"/>
<circle cx="516.5" cy="35.1" r="1.5" fill="#383838" opacity="0.64" filter="url(#bl05)"/>
<circle cx="504.8" cy="149.8" r="1.1" fill="#383838" opacity="0.46" filter="url(#bl05)"/>
<circle cx="548.0" cy="90.4" r="1.7" fill="#383838" opacity="0.68" filter="url(#bl05)"/>
<circle cx="618.9" cy="14.4" r="1.5" fill="#383838" opacity="0.48" filter="url(#bl05)"/>
<circle cx="441.4" cy="121.0" r="0.9" fill="#383838" opacity="0.67" filter="url(#bl05)"/>
<circle cx="456.7" cy="122.4" r="1.0" fill="#383838" opacity="0.53" filter="url(#bl05)"/>
<circle cx="609.3" cy="86.9" r="1.2" fill="#383838" opacity="0.57" filter="url(#bl05)"/>
<circle cx="659.2" cy="110.8" r="1.3" fill="#383838" opacity="0.70" filter="url(#bl05)"/>
<circle cx="595.3" cy="149.2" r="1.5" fill="#383838" opacity="0.68" filter="url(#bl05)"/>
<circle cx="631.0" cy="131.9" r="1.6" fill="#383838" opacity="0.79" filter="url(#bl05)"/>
<circle cx="578.6" cy="87.2" r="1.5" fill="#383838" opacity="0.60" filter="url(#bl05)"/>
<circle cx="524.6" cy="27.4" r="1.7" fill="#383838" opacity="0.58" filter="url(#bl05)"/>
<circle cx="462.5" cy="36.6" r="1.1" fill="#383838" opacity="0.79" filter="url(#bl05)"/>
<circle cx="492.6" cy="138.4" r="1.0" fill="#383838" opacity="0.47" filter="url(#bl05)"/>
<circle cx="534.0" cy="96.8" r="0.8" fill="#383838" opacity="0.49" filter="url(#bl05)"/>
<circle cx="500.2" cy="118.7" r="1.0" fill="#383838" opacity="0.51" filter="url(#bl05)"/>
<circle cx="490.4" cy="31.5" r="1.1" fill="#383838" opacity="0.64" filter="url(#bl05)"/>
<circle cx="518.9" cy="153.4" r="1.1" fill="#383838" opacity="0.64" filter="url(#bl05)"/>
<circle cx="426.8" cy="157.0" r="1.5" fill="#383838" opacity="0.58" filter="url(#bl05)"/>
<circle cx="530.2" cy="125.5" r="1.0" fill="#383838" opacity="0.45" filter="url(#bl05)"/>
<circle cx="537.4" cy="63.1" r="1.4" fill="#383838" opacity="0.66" filter="url(#bl05)"/>
<circle cx="449.8" cy="148.5" r="1.3" fill="#383838" opacity="0.67" filter="url(#bl05)"/>
<circle cx="665.3" cy="46.4" r="0.9" fill="#383838" opacity="0.72" filter="url(#bl05)"/>
<circle cx="421.6" cy="134.4" r="1.5" fill="#383838" opacity="0.48" filter="url(#bl05)"/>
<circle cx="474.1" cy="105.1" r="1.7" fill="#383838" opacity="0.66" filter="url(#bl05)"/>
<circle cx="631.9" cy="52.3" r="1.2" fill="#383838" opacity="0.77" filter="url(#bl05)"/>
<circle cx="481.1" cy="111.2" r="0.9" fill="#383838" opacity="0.74" filter="url(#bl05)"/>
<circle cx="424.0" cy="129.5" r="4.0" fill="#262626" opacity="0.8" filter="url(#bl05)"/>
<circle cx="534.5" cy="153.5" r="3.0" fill="#262626" opacity="0.8" filter="url(#bl05)"/>
<circle cx="559.0" cy="17.0" r="1.4" fill="#262626" opacity="0.8" filter="url(#bl05)"/>
<circle cx="659.5" cy="16.0" r="1.6" fill="#262626" opacity="0.8" filter="url(#bl05)"/>
<circle cx="600.3" cy="92.9" r="1.5" fill="#262626" opacity="0.8" filter="url(#bl05)"/>
<circle cx="473.5" cy="96.5" r="2.6" fill="#262626" opacity="0.8" filter="url(#bl05)"/>
<circle cx="505.8" cy="88.0" r="1.2" fill="#262626" opacity="0.8" filter="url(#bl05)"/>
<circle cx="481.0" cy="60.0" r="1.1" fill="#262626" opacity="0.8" filter="url(#bl05)"/>
<circle cx="492.0" cy="110.0" r="1.3" fill="#262626" opacity="0.8" filter="url(#bl05)"/>
<ellipse cx="581.5" cy="12.5" rx="5.3" ry="7.8" transform="rotate(12.0 581.5 12.5)" fill="#5a5a5a" stroke="none" stroke-width="1.00" opacity="0.25" filter="url(#bl05)"/>
<ellipse cx="581.5" cy="12.5" rx="5.3" ry="7.8" transform="rotate(12.0 581.5 12.5)" fill="none" stroke="#d0d0d0" stroke-width="0.95" filter="url(#bl03)"/>
<ellipse cx="479.0" cy="53.2" rx="8.8" ry="3.4" transform="rotate(-3.0 479.0 53.2)" fill="#5a5a5a" stroke="none" stroke-width="1.00" opacity="0.25" filter="url(#bl05)"/>
<ellipse cx="479.0" cy="53.2" rx="8.8" ry="3.4" transform="rotate(-3.0 479.0 53.2)" fill="none" stroke="#d0d0d0" stroke-width="0.95" filter="url(#bl03)"/>
<ellipse cx="508.5" cy="47.8" rx="8.8" ry="4.0" transform="rotate(-22.0 508.5 47.8)" fill="#5a5a5a" stroke="none" stroke-width="1.00" opacity="0.25" filter="url(#bl05)"/>
<ellipse cx="508.5" cy="47.8" rx="8.8" ry="4.0" transform="rotate(-22.0 508.5 47.8)" fill="none" stroke="#d0d0d0" stroke-width="0.95" filter="url(#bl03)"/>
<ellipse cx="559.0" cy="40.8" rx="9.0" ry="4.8" transform="rotate(-48.0 559.0 40.8)" fill="#303030" stroke="none" stroke-width="1.00" opacity="0.85" filter="url(#bl05)"/>
<ellipse cx="559.0" cy="40.8" rx="9.0" ry="4.8" transform="rotate(-48.0 559.0 40.8)" fill="none" stroke="#d0d0d0" stroke-width="0.95" filter="url(#bl03)"/>
<ellipse cx="624.8" cy="39.3" rx="8.0" ry="3.6" transform="rotate(-25.0 624.8 39.3)" fill="#5a5a5a" stroke="none" stroke-width="1.00" opacity="0.25" filter="url(#bl05)"/>
<ellipse cx="624.8" cy="39.3" rx="8.0" ry="3.6" transform="rotate(-25.0 624.8 39.3)" fill="none" stroke="#d0d0d0" stroke-width="0.95" filter="url(#bl03)"/>
<ellipse cx="638.5" cy="50.5" rx="7.6" ry="3.2" transform="rotate(-62.0 638.5 50.5)" fill="#5a5a5a" stroke="none" stroke-width="1.00" opacity="0.25" filter="url(#bl05)"/>
<ellipse cx="638.5" cy="50.5" rx="7.6" ry="3.2" transform="rotate(-62.0 638.5 50.5)" fill="none" stroke="#d0d0d0" stroke-width="0.95" filter="url(#bl03)"/>
<ellipse cx="462.9" cy="69.5" rx="7.4" ry="2.8" transform="rotate(-4.0 462.9 69.5)" fill="#5a5a5a" stroke="none" stroke-width="1.00" opacity="0.25" filter="url(#bl05)"/>
<ellipse cx="462.9" cy="69.5" rx="7.4" ry="2.8" transform="rotate(-4.0 462.9 69.5)" fill="none" stroke="#d0d0d0" stroke-width="0.95" filter="url(#bl03)"/>
<ellipse cx="536.5" cy="74.3" rx="6.5" ry="3.7" transform="rotate(35.0 536.5 74.3)" fill="#303030" stroke="none" stroke-width="1.00" opacity="0.50" filter="url(#bl05)"/>
<ellipse cx="536.5" cy="74.3" rx="6.5" ry="3.7" transform="rotate(35.0 536.5 74.3)" fill="none" stroke="#d0d0d0" stroke-width="0.95" filter="url(#bl03)"/>
<ellipse cx="606.0" cy="71.2" rx="8.6" ry="4.5" transform="rotate(40.0 606.0 71.2)" fill="#303030" stroke="none" stroke-width="1.00" opacity="0.50" filter="url(#bl05)"/>
<ellipse cx="606.0" cy="71.2" rx="8.6" ry="4.5" transform="rotate(40.0 606.0 71.2)" fill="none" stroke="#d0d0d0" stroke-width="0.95" filter="url(#bl03)"/>
<ellipse cx="644.4" cy="77.8" rx="8.4" ry="4.0" transform="rotate(-4.0 644.4 77.8)" fill="#5a5a5a" stroke="none" stroke-width="1.00" opacity="0.25" filter="url(#bl05)"/>
<ellipse cx="644.4" cy="77.8" rx="8.4" ry="4.0" transform="rotate(-4.0 644.4 77.8)" fill="none" stroke="#d0d0d0" stroke-width="0.95" filter="url(#bl03)"/>
<ellipse cx="470.7" cy="84.0" rx="3.0" ry="6.2" transform="rotate(5.0 470.7 84.0)" fill="#5a5a5a" stroke="none" stroke-width="1.00" opacity="0.25" filter="url(#bl05)"/>
<ellipse cx="470.7" cy="84.0" rx="3.0" ry="6.2" transform="rotate(5.0 470.7 84.0)" fill="none" stroke="#d0d0d0" stroke-width="0.95" filter="url(#bl03)"/>
<ellipse cx="466.0" cy="92.5" rx="4.8" ry="5.5" transform="rotate(-30.0 466.0 92.5)" fill="#303030" stroke="none" stroke-width="1.00" opacity="0.50" filter="url(#bl05)"/>
<ellipse cx="466.0" cy="92.5" rx="4.8" ry="5.5" transform="rotate(-30.0 466.0 92.5)" fill="none" stroke="#d0d0d0" stroke-width="0.95" filter="url(#bl03)"/>
<ellipse cx="498.5" cy="93.8" rx="7.6" ry="3.6" transform="rotate(42.0 498.5 93.8)" fill="#5a5a5a" stroke="none" stroke-width="1.00" opacity="0.25" filter="url(#bl05)"/>
<ellipse cx="498.5" cy="93.8" rx="7.6" ry="3.6" transform="rotate(42.0 498.5 93.8)" fill="none" stroke="#d0d0d0" stroke-width="0.95" filter="url(#bl03)"/>
<ellipse cx="564.3" cy="103.5" rx="7.0" ry="3.3" transform="rotate(60.0 564.3 103.5)" fill="#303030" stroke="none" stroke-width="1.00" opacity="0.50" filter="url(#bl05)"/>
<ellipse cx="564.3" cy="103.5" rx="7.0" ry="3.3" transform="rotate(60.0 564.3 103.5)" fill="none" stroke="#d0d0d0" stroke-width="0.95" filter="url(#bl03)"/>
<ellipse cx="458.3" cy="147.5" rx="6.8" ry="3.8" transform="rotate(28.0 458.3 147.5)" fill="#5a5a5a" stroke="none" stroke-width="1.00" opacity="0.25" filter="url(#bl05)"/>
<ellipse cx="458.3" cy="147.5" rx="6.8" ry="3.8" transform="rotate(28.0 458.3 147.5)" fill="none" stroke="#d0d0d0" stroke-width="0.95" filter="url(#bl03)"/>
<ellipse cx="507.3" cy="145.0" rx="7.2" ry="3.6" transform="rotate(8.0 507.3 145.0)" fill="#5a5a5a" stroke="none" stroke-width="1.00" opacity="0.25" filter="url(#bl05)"/>
<ellipse cx="507.3" cy="145.0" rx="7.2" ry="3.6" transform="rotate(8.0 507.3 145.0)" fill="none" stroke="#d0d0d0" stroke-width="0.95" filter="url(#bl03)"/>
<ellipse cx="562.4" cy="141.7" rx="7.2" ry="3.6" transform="rotate(68.0 562.4 141.7)" fill="#5a5a5a" stroke="none" stroke-width="1.00" opacity="0.25" filter="url(#bl05)"/>
<ellipse cx="562.4" cy="141.7" rx="7.2" ry="3.6" transform="rotate(68.0 562.4 141.7)" fill="none" stroke="#d0d0d0" stroke-width="0.95" filter="url(#bl03)"/>
<ellipse cx="485.3" cy="158.5" rx="8.2" ry="3.6" transform="rotate(5.0 485.3 158.5)" fill="#5a5a5a" stroke="none" stroke-width="1.00" opacity="0.25" filter="url(#bl05)"/>
<ellipse cx="485.3" cy="158.5" rx="8.2" ry="3.6" transform="rotate(5.0 485.3 158.5)" fill="none" stroke="#d0d0d0" stroke-width="0.95" filter="url(#bl03)"/>
</g>
<rect x="424" y="149.4" width="14.1" height="13.3" fill="#f6f2f2"/>
<path d="M427.2,150.2 v9.3 M435.7,154 v5.5 M427.2,156.4 h8.5" stroke="#8a4050" stroke-width="0.9" fill="none" filter="url(#bl03)"/>
<rect x="429.8" y="150.4" width="6" height="2.6" fill="#c05060" opacity="0.55" filter="url(#bl03)"/><rect x="421.3" y="162.7" width="245.7" height="2.4" fill="#d9d9d9"/>
<clipPath id="clipD"><rect x="421.3" y="165.0" width="243.5" height="157.6"/></clipPath>
<g clip-path="url(#clipD)">
<rect x="421.3" y="165.0" width="243.5" height="157.6" fill="#adadad" filter="url(#grainD)"/>
<rect x="421.3" y="165.0" width="243.5" height="157.6" fill="#000" filter="url(#texD)" opacity="0.18"/>
<ellipse cx="484.0" cy="186.0" rx="22.0" ry="10.0" transform="rotate(0.0 484.0 186.0)" fill="#3c3c3c" stroke="none" stroke-width="1.00" opacity="0.60" filter="url(#bl3)"/>
<ellipse cx="425.0" cy="180.0" rx="6.0" ry="8.0" transform="rotate(0.0 425.0 180.0)" fill="#3c3c3c" stroke="none" stroke-width="1.00" opacity="0.35" filter="url(#bl3)"/>
<ellipse cx="441.0" cy="194.0" rx="12.0" ry="5.0" transform="rotate(0.0 441.0 194.0)" fill="#3c3c3c" stroke="none" stroke-width="1.00" opacity="0.20" filter="url(#bl3)"/>
<ellipse cx="507.0" cy="205.0" rx="4.0" ry="2.5" transform="rotate(-45.0 507.0 205.0)" fill="#3c3c3c" stroke="none" stroke-width="1.00" opacity="0.60" filter="url(#bl3)"/>
<ellipse cx="515.0" cy="181.0" rx="10.0" ry="6.0" transform="rotate(0.0 515.0 181.0)" fill="#3c3c3c" stroke="none" stroke-width="1.00" opacity="0.15" filter="url(#bl3)"/>
<ellipse cx="623.0" cy="180.0" rx="18.0" ry="10.0" transform="rotate(0.0 623.0 180.0)" fill="#3c3c3c" stroke="none" stroke-width="1.00" opacity="0.50" filter="url(#bl3)"/>
<ellipse cx="638.0" cy="213.0" rx="26.0" ry="9.0" transform="rotate(0.0 638.0 213.0)" fill="#3c3c3c" stroke="none" stroke-width="1.00" opacity="0.40" filter="url(#bl3)"/>
<ellipse cx="655.0" cy="222.0" rx="10.0" ry="6.0" transform="rotate(0.0 655.0 222.0)" fill="#3c3c3c" stroke="none" stroke-width="1.00" opacity="0.30" filter="url(#bl3)"/>
<ellipse cx="503.0" cy="237.0" rx="11.0" ry="9.0" transform="rotate(0.0 503.0 237.0)" fill="#3c3c3c" stroke="none" stroke-width="1.00" opacity="0.70" filter="url(#bl3)"/>
<ellipse cx="490.0" cy="238.0" rx="11.0" ry="7.0" transform="rotate(0.0 490.0 238.0)" fill="#3c3c3c" stroke="none" stroke-width="1.00" opacity="0.35" filter="url(#bl3)"/>
<ellipse cx="607.0" cy="251.0" rx="11.0" ry="14.0" transform="rotate(0.0 607.0 251.0)" fill="#3c3c3c" stroke="none" stroke-width="1.00" opacity="0.55" filter="url(#bl3)"/>
<ellipse cx="586.0" cy="245.0" rx="6.0" ry="8.0" transform="rotate(0.0 586.0 245.0)" fill="#3c3c3c" stroke="none" stroke-width="1.00" opacity="0.30" filter="url(#bl3)"/>
<ellipse cx="652.0" cy="292.0" rx="12.0" ry="13.0" transform="rotate(0.0 652.0 292.0)" fill="#3c3c3c" stroke="none" stroke-width="1.00" opacity="0.45" filter="url(#bl3)"/>
<ellipse cx="543.0" cy="316.0" rx="6.0" ry="6.0" transform="rotate(0.0 543.0 316.0)" fill="#3c3c3c" stroke="none" stroke-width="1.00" opacity="0.35" filter="url(#bl3)"/>
<ellipse cx="603.0" cy="270.0" rx="6.0" ry="3.0" transform="rotate(0.0 603.0 270.0)" fill="#3c3c3c" stroke="none" stroke-width="1.00" opacity="0.30" filter="url(#bl3)"/>
<ellipse cx="424.0" cy="219.0" rx="4.0" ry="4.0" transform="rotate(0.0 424.0 219.0)" fill="#3c3c3c" stroke="none" stroke-width="1.00" opacity="0.40" filter="url(#bl3)"/>
<ellipse cx="540.0" cy="196.0" rx="8.0" ry="5.0" transform="rotate(0.0 540.0 196.0)" fill="#3c3c3c" stroke="none" stroke-width="1.00" opacity="0.12" filter="url(#bl3)"/>
<ellipse cx="630.0" cy="240.0" rx="14.0" ry="8.0" transform="rotate(0.0 630.0 240.0)" fill="#3c3c3c" stroke="none" stroke-width="1.00" opacity="0.12" filter="url(#bl3)"/>
<circle cx="612.0" cy="175.0" r="2.0" fill="#4a4a4a" stroke="#b8b8b8" stroke-width="0.6" opacity="0.8" filter="url(#bl03)"/>
<circle cx="620.0" cy="178.0" r="2.0" fill="#4a4a4a" stroke="#b8b8b8" stroke-width="0.6" opacity="0.8" filter="url(#bl03)"/>
<circle cx="627.0" cy="181.0" r="2.0" fill="#4a4a4a" stroke="#b8b8b8" stroke-width="0.6" opacity="0.8" filter="url(#bl03)"/>
<circle cx="636.0" cy="186.0" r="2.0" fill="#4a4a4a" stroke="#b8b8b8" stroke-width="0.6" opacity="0.8" filter="url(#bl03)"/>
<circle cx="608.0" cy="185.0" r="2.0" fill="#4a4a4a" stroke="#b8b8b8" stroke-width="0.6" opacity="0.8" filter="url(#bl03)"/>
<circle cx="631.0" cy="173.0" r="2.0" fill="#4a4a4a" stroke="#b8b8b8" stroke-width="0.6" opacity="0.8" filter="url(#bl03)"/>
<ellipse cx="464.7" cy="281.5" rx="21.0" ry="5.5" transform="rotate(23.0 464.7 281.5)" fill="#4a4a4a" stroke="none" stroke-width="1.00" opacity="0.42" filter="url(#bl1)"/>
<ellipse cx="466.0" cy="279.0" rx="18.0" ry="2.0" transform="rotate(23.0 466.0 279.0)" fill="#303030" stroke="none" stroke-width="1.00" opacity="0.40" filter="url(#bl05)"/>
<ellipse cx="480.0" cy="287.5" rx="5.0" ry="3.0" transform="rotate(23.0 480.0 287.5)" fill="#303030" stroke="none" stroke-width="1.00" opacity="0.35" filter="url(#bl1)"/>
<circle cx="452.0" cy="277.0" r="1.3" fill="#d0d0d0" opacity="0.7" filter="url(#bl05)"/>
<circle cx="458.0" cy="281.0" r="1.3" fill="#d0d0d0" opacity="0.7" filter="url(#bl05)"/>
<circle cx="463.0" cy="279.0" r="1.3" fill="#d0d0d0" opacity="0.7" filter="url(#bl05)"/>
<circle cx="470.0" cy="284.0" r="1.3" fill="#d0d0d0" opacity="0.7" filter="url(#bl05)"/>
<circle cx="447.0" cy="279.0" r="1.3" fill="#d0d0d0" opacity="0.7" filter="url(#bl05)"/>
<rect x="535.0" y="170.5" width="35.0" height="15.4" rx="7.7" transform="rotate(-29.0 552.5 178.2)" fill="#3a3a3a" stroke="none" stroke-width="0.00" opacity="0.30" filter="url(#bl2)"/>
<rect x="536.5" y="172.0" width="32.0" height="12.4" rx="6.2" transform="rotate(-29.0 552.5 178.2)" fill="#6a6a6a" stroke="none" stroke-width="0.00" opacity="0.95" filter="url(#bl05)"/>
<rect x="539.7" y="174.3" width="25.6" height="6.8" rx="3.4" transform="rotate(-29.0 552.5 178.2)" fill="#3c3c3c" stroke="none" stroke-width="0.00" opacity="0.55" filter="url(#bl1)"/>
<rect x="537.0" y="172.5" width="31.0" height="11.4" rx="5.7" transform="rotate(-29.0 552.5 178.2)" fill="none" stroke="#c6c6c6" stroke-width="1.10" opacity="0.90" filter="url(#bl03)"/>
<rect x="536.8" y="238.1" width="45.0" height="17.0" rx="8.5" transform="rotate(-18.0 559.3 246.6)" fill="#3a3a3a" stroke="none" stroke-width="0.00" opacity="0.30" filter="url(#bl2)"/>
<rect x="538.3" y="239.6" width="42.0" height="14.0" rx="7.0" transform="rotate(-18.0 559.3 246.6)" fill="#6a6a6a" stroke="none" stroke-width="0.00" opacity="0.95" filter="url(#bl05)"/>
<rect x="542.5" y="242.2" width="33.6" height="7.7" rx="3.9" transform="rotate(-18.0 559.3 246.6)" fill="#3c3c3c" stroke="none" stroke-width="0.00" opacity="0.55" filter="url(#bl1)"/>
<rect x="538.8" y="240.1" width="41.0" height="13.0" rx="6.5" transform="rotate(-18.0 559.3 246.6)" fill="none" stroke="#c6c6c6" stroke-width="1.10" opacity="0.90" filter="url(#bl03)"/>
<rect x="595.0" y="251.0" width="25.0" height="14.0" rx="7.0" transform="rotate(-30.0 607.5 258.0)" fill="#3a3a3a" stroke="none" stroke-width="0.00" opacity="0.14" filter="url(#bl2)"/>
<rect x="596.5" y="252.5" width="22.0" height="11.0" rx="5.5" transform="rotate(-30.0 607.5 258.0)" fill="#6a6a6a" stroke="none" stroke-width="0.00" opacity="0.43" filter="url(#bl05)"/>
<rect x="598.7" y="254.5" width="17.6" height="6.1" rx="3.0" transform="rotate(-30.0 607.5 258.0)" fill="#3c3c3c" stroke="none" stroke-width="0.00" opacity="0.25" filter="url(#bl1)"/>
<rect x="597.0" y="253.0" width="21.0" height="10.0" rx="5.0" transform="rotate(-30.0 607.5 258.0)" fill="none" stroke="#c6c6c6" stroke-width="1.10" opacity="0.41" filter="url(#bl03)"/>
<rect x="587.5" y="284.0" width="36.0" height="18.0" rx="9.0" transform="rotate(-34.0 605.5 293.0)" fill="#3a3a3a" stroke="none" stroke-width="0.00" opacity="0.33" filter="url(#bl2)"/>
<rect x="589.0" y="285.5" width="33.0" height="15.0" rx="7.5" transform="rotate(-34.0 605.5 293.0)" fill="#6a6a6a" stroke="none" stroke-width="0.00" opacity="0.95" filter="url(#bl05)"/>
<rect x="592.3" y="288.4" width="26.4" height="8.2" rx="4.1" transform="rotate(-34.0 605.5 293.0)" fill="#3c3c3c" stroke="none" stroke-width="0.00" opacity="0.61" filter="url(#bl1)"/>
<rect x="589.5" y="286.0" width="32.0" height="14.0" rx="7.0" transform="rotate(-34.0 605.5 293.0)" fill="none" stroke="#c6c6c6" stroke-width="1.10" opacity="0.90" filter="url(#bl03)"/>
<ellipse cx="632.0" cy="212.0" rx="11.0" ry="7.0" transform="rotate(-10.0 632.0 212.0)" fill="#d2d2d2" stroke="none" stroke-width="1.00" opacity="0.90" filter="url(#bl05)"/>
<ellipse cx="492.0" cy="318.0" rx="13.0" ry="6.0" transform="rotate(0.0 492.0 318.0)" fill="#d2d2d2" stroke="none" stroke-width="1.00" opacity="0.90" filter="url(#bl05)"/>
<circle cx="626.0" cy="209.0" r="1.1" fill="#111" filter="url(#bl03)"/>
<circle cx="630.0" cy="214.0" r="1.1" fill="#111" filter="url(#bl03)"/>
<circle cx="635.0" cy="209.0" r="1.1" fill="#111" filter="url(#bl03)"/>
<circle cx="638.0" cy="214.0" r="1.1" fill="#111" filter="url(#bl03)"/>
<circle cx="628.0" cy="216.0" r="1.1" fill="#111" filter="url(#bl03)"/>
<circle cx="633.0" cy="218.0" r="1.1" fill="#111" filter="url(#bl03)"/>
<circle cx="622.0" cy="212.0" r="1.1" fill="#111" filter="url(#bl03)"/>
<circle cx="640.0" cy="209.0" r="1.1" fill="#111" filter="url(#bl03)"/>
<circle cx="498.8" cy="315.1" r="1.1" fill="#111" filter="url(#bl03)"/>
<circle cx="502.5" cy="315.0" r="1.1" fill="#111" filter="url(#bl03)"/>
<circle cx="500.6" cy="318.9" r="1.1" fill="#111" filter="url(#bl03)"/>
<circle cx="490.0" cy="320.0" r="1.1" fill="#111" filter="url(#bl03)"/>
<circle cx="485.0" cy="316.0" r="1.1" fill="#111" filter="url(#bl03)"/>
<path d="M458.0,176.0 L460.0,169.0 L470.0,166.0 L489.0,165.2 L488.0,170.0 L477.0,173.0 L468.0,177.5 Z" fill="#f2f2f2" opacity="0.95" filter="url(#bl05)"/>
<path d="M442.0,215.0 L447.0,214.5 L454.0,228.0 L450.0,230.5 Z" fill="#f2f2f2" opacity="0.95" filter="url(#bl05)"/>
<path d="M445.0,249.0 L446.5,232.0 L452.0,230.0 L453.0,236.0 L449.0,249.5 Z" fill="#f2f2f2" opacity="0.95" filter="url(#bl05)"/>
<path d="M453.5,218.0 L463.0,217.5 L465.0,224.0 L456.0,226.5 Z" fill="#f2f2f2" opacity="0.95" filter="url(#bl05)"/>
<path d="M455.5,243.0 L462.0,242.5 L463.0,250.5 L456.5,251.0 Z" fill="#f2f2f2" opacity="0.95" filter="url(#bl05)"/>
<path d="M472.5,228.0 L477.0,230.5 L467.0,244.5 L463.0,242.0 Z" fill="#f2f2f2" opacity="0.95" filter="url(#bl05)"/>
<path d="M472.0,242.0 L479.0,241.5 L481.0,251.0 L474.0,252.0 Z" fill="#f2f2f2" opacity="0.95" filter="url(#bl05)"/>
<path d="M568.5,185.0 L572.5,183.0 L576.0,196.0 L580.5,212.0 L586.5,231.0 L585.0,236.0 L579.5,227.0 L574.5,211.0 L571.0,197.0 Z" fill="#f2f2f2" opacity="0.95" filter="url(#bl05)"/>
<path d="M576.0,179.0 L588.0,176.0 L591.0,179.5 L583.0,184.0 L576.0,188.0 Z" fill="#f2f2f2" opacity="0.95" filter="url(#bl05)"/>
<path d="M559.0,275.0 L568.0,273.0 L574.0,280.0 L572.0,291.0 L566.0,291.0 L568.0,282.0 L561.0,279.0 Z" fill="#f2f2f2" opacity="0.95" filter="url(#bl05)"/>
<path d="M576.0,293.0 L584.0,292.0 L586.0,298.0 L580.0,301.0 L585.0,305.0 L583.0,309.0 L575.0,308.0 L574.0,303.0 L579.0,299.0 L575.0,297.0 Z" fill="#f2f2f2" opacity="0.95" filter="url(#bl05)"/>
<path d="M597.0,273.0 L608.0,271.5 L609.0,276.0 L601.0,279.5 Z" fill="#f2f2f2" opacity="0.95" filter="url(#bl05)"/>
<path d="M629.0,299.0 L636.0,295.0 L643.0,294.5 L642.0,297.5 L635.0,299.0 L630.0,302.5 Z" fill="#f2f2f2" opacity="0.95" filter="url(#bl05)"/>
<path d="M625.0,303.0 L632.0,302.0 L633.0,306.5 L626.0,307.5 Z" fill="#f2f2f2" opacity="0.95" filter="url(#bl05)"/>
<path d="M612.0,315.0 L620.0,313.5 L620.5,318.0 L613.0,319.0 Z" fill="#f2f2f2" opacity="0.95" filter="url(#bl05)"/>
<path d="M626.0,318.0 L634.0,317.5 L634.5,321.5 L626.5,321.5 Z" fill="#f2f2f2" opacity="0.95" filter="url(#bl05)"/>
<path d="M559.0,305.0 L563.0,303.0 L562.0,308.0 Z" fill="#f2f2f2" opacity="0.95" filter="url(#bl05)"/>
<ellipse cx="645.0" cy="177.5" rx="6.0" ry="5.0" transform="rotate(0.0 645.0 177.5)" fill="#d4d4d4" stroke="none" stroke-width="1.00" opacity="0.80" filter="url(#bl1)"/>
<circle cx="461.5" cy="273.7" r="1.7" fill="#dcdcdc" stroke="#8a8a8a" stroke-width="0.6" opacity="0.8" filter="url(#bl03)"/>
<circle cx="538.0" cy="199.0" r="1.9" fill="#dcdcdc" stroke="#8a8a8a" stroke-width="0.6" opacity="0.8" filter="url(#bl03)"/>
<circle cx="618.0" cy="245.8" r="1.6" fill="#dcdcdc" stroke="#8a8a8a" stroke-width="0.6" opacity="0.8" filter="url(#bl03)"/>
<circle cx="478.8" cy="165.5" r="1.5" fill="#dcdcdc" stroke="#8a8a8a" stroke-width="0.6" opacity="0.8" filter="url(#bl03)"/>
<circle cx="563.8" cy="175.9" r="1.9" fill="#dcdcdc" stroke="#8a8a8a" stroke-width="0.6" opacity="0.8" filter="url(#bl03)"/>
<circle cx="477.9" cy="201.7" r="1.1" fill="#dcdcdc" stroke="#8a8a8a" stroke-width="0.6" opacity="0.8" filter="url(#bl03)"/>
<circle cx="664.2" cy="281.4" r="2.0" fill="#dcdcdc" stroke="#8a8a8a" stroke-width="0.6" opacity="0.8" filter="url(#bl03)"/>
<circle cx="571.3" cy="170.4" r="1.4" fill="#dcdcdc" stroke="#8a8a8a" stroke-width="0.6" opacity="0.8" filter="url(#bl03)"/>
<circle cx="542.5" cy="183.3" r="2.1" fill="#dcdcdc" stroke="#8a8a8a" stroke-width="0.6" opacity="0.8" filter="url(#bl03)"/>
<circle cx="511.0" cy="189.4" r="1.9" fill="#dcdcdc" stroke="#8a8a8a" stroke-width="0.6" opacity="0.8" filter="url(#bl03)"/>
<circle cx="451.7" cy="311.2" r="1.6" fill="#dcdcdc" stroke="#8a8a8a" stroke-width="0.6" opacity="0.8" filter="url(#bl03)"/>
<circle cx="555.7" cy="219.0" r="1.6" fill="#dcdcdc" stroke="#8a8a8a" stroke-width="0.6" opacity="0.8" filter="url(#bl03)"/>
<circle cx="466.8" cy="170.9" r="2.0" fill="#dcdcdc" stroke="#8a8a8a" stroke-width="0.6" opacity="0.8" filter="url(#bl03)"/>
<circle cx="478.5" cy="288.0" r="1.3" fill="#dcdcdc" stroke="#8a8a8a" stroke-width="0.6" opacity="0.8" filter="url(#bl03)"/>
<circle cx="657.2" cy="305.9" r="1.9" fill="#dcdcdc" stroke="#8a8a8a" stroke-width="0.6" opacity="0.8" filter="url(#bl03)"/>
<circle cx="607.0" cy="256.5" r="1.8" fill="#dcdcdc" stroke="#8a8a8a" stroke-width="0.6" opacity="0.8" filter="url(#bl03)"/>
<circle cx="451.1" cy="240.1" r="1.9" fill="#dcdcdc" stroke="#8a8a8a" stroke-width="0.6" opacity="0.8" filter="url(#bl03)"/>
<circle cx="470.3" cy="310.5" r="2.0" fill="#dcdcdc" stroke="#8a8a8a" stroke-width="0.6" opacity="0.8" filter="url(#bl03)"/>
<circle cx="521.0" cy="222.6" r="1.6" fill="#dcdcdc" stroke="#8a8a8a" stroke-width="0.6" opacity="0.8" filter="url(#bl03)"/>
<circle cx="515.2" cy="321.8" r="1.5" fill="#dcdcdc" stroke="#8a8a8a" stroke-width="0.6" opacity="0.8" filter="url(#bl03)"/>
<circle cx="427.8" cy="179.7" r="1.8" fill="#dcdcdc" stroke="#8a8a8a" stroke-width="0.6" opacity="0.8" filter="url(#bl03)"/>
<circle cx="663.1" cy="243.2" r="1.6" fill="#dcdcdc" stroke="#8a8a8a" stroke-width="0.6" opacity="0.8" filter="url(#bl03)"/>
<circle cx="555.3" cy="282.9" r="1.3" fill="#dcdcdc" stroke="#8a8a8a" stroke-width="0.6" opacity="0.8" filter="url(#bl03)"/>
<circle cx="569.6" cy="252.7" r="1.7" fill="#dcdcdc" stroke="#8a8a8a" stroke-width="0.6" opacity="0.8" filter="url(#bl03)"/>
<circle cx="465.3" cy="191.8" r="1.4" fill="#dcdcdc" stroke="#8a8a8a" stroke-width="0.6" opacity="0.8" filter="url(#bl03)"/>
<circle cx="647.0" cy="219.6" r="1.7" fill="#dcdcdc" stroke="#8a8a8a" stroke-width="0.6" opacity="0.8" filter="url(#bl03)"/>
<circle cx="496.0" cy="181.3" r="1.2" fill="#dcdcdc" stroke="#8a8a8a" stroke-width="0.6" opacity="0.8" filter="url(#bl03)"/>
<circle cx="619.4" cy="287.5" r="1.5" fill="#dcdcdc" stroke="#8a8a8a" stroke-width="0.6" opacity="0.8" filter="url(#bl03)"/>
<circle cx="587.7" cy="271.5" r="2.0" fill="#dcdcdc" stroke="#8a8a8a" stroke-width="0.6" opacity="0.8" filter="url(#bl03)"/>
<circle cx="654.6" cy="229.1" r="2.1" fill="#dcdcdc" stroke="#8a8a8a" stroke-width="0.6" opacity="0.8" filter="url(#bl03)"/>
<circle cx="655.4" cy="258.1" r="2.0" fill="#dcdcdc" stroke="#8a8a8a" stroke-width="0.6" opacity="0.8" filter="url(#bl03)"/>
<circle cx="540.8" cy="224.2" r="1.3" fill="#dcdcdc" stroke="#8a8a8a" stroke-width="0.6" opacity="0.8" filter="url(#bl03)"/>
<circle cx="634.6" cy="190.6" r="1.2" fill="#dcdcdc" stroke="#8a8a8a" stroke-width="0.6" opacity="0.8" filter="url(#bl03)"/>
<circle cx="617.4" cy="287.0" r="1.6" fill="#dcdcdc" stroke="#8a8a8a" stroke-width="0.6" opacity="0.8" filter="url(#bl03)"/>
<circle cx="625.1" cy="173.2" r="1.4" fill="#dcdcdc" stroke="#8a8a8a" stroke-width="0.6" opacity="0.8" filter="url(#bl03)"/>
<circle cx="491.9" cy="231.1" r="1.3" fill="#dcdcdc" stroke="#8a8a8a" stroke-width="0.6" opacity="0.8" filter="url(#bl03)"/>
<circle cx="438.2" cy="218.3" r="2.0" fill="#dcdcdc" stroke="#8a8a8a" stroke-width="0.6" opacity="0.8" filter="url(#bl03)"/>
<circle cx="660.8" cy="282.5" r="1.6" fill="#dcdcdc" stroke="#8a8a8a" stroke-width="0.6" opacity="0.8" filter="url(#bl03)"/>
<circle cx="482.7" cy="316.1" r="1.6" fill="#dcdcdc" stroke="#8a8a8a" stroke-width="0.6" opacity="0.8" filter="url(#bl03)"/>
<circle cx="598.7" cy="169.5" r="1.3" fill="#dcdcdc" stroke="#8a8a8a" stroke-width="0.6" opacity="0.8" filter="url(#bl03)"/>
<circle cx="625.4" cy="290.3" r="2.0" fill="#dcdcdc" stroke="#8a8a8a" stroke-width="0.6" opacity="0.8" filter="url(#bl03)"/>
<circle cx="567.7" cy="232.2" r="1.7" fill="#dcdcdc" stroke="#8a8a8a" stroke-width="0.6" opacity="0.8" filter="url(#bl03)"/>
<circle cx="628.1" cy="213.5" r="1.6" fill="#dcdcdc" stroke="#8a8a8a" stroke-width="0.6" opacity="0.8" filter="url(#bl03)"/>
<circle cx="488.5" cy="286.1" r="1.1" fill="#dcdcdc" stroke="#8a8a8a" stroke-width="0.6" opacity="0.8" filter="url(#bl03)"/>
<circle cx="588.2" cy="315.3" r="1.1" fill="#dcdcdc" stroke="#8a8a8a" stroke-width="0.6" opacity="0.8" filter="url(#bl03)"/>
<circle cx="565.9" cy="266.5" r="2.0" fill="#dcdcdc" stroke="#8a8a8a" stroke-width="0.6" opacity="0.8" filter="url(#bl03)"/>
<circle cx="563.6" cy="205.5" r="1.5" fill="#dcdcdc" stroke="#8a8a8a" stroke-width="0.6" opacity="0.8" filter="url(#bl03)"/>
<circle cx="654.7" cy="307.7" r="1.2" fill="#dcdcdc" stroke="#8a8a8a" stroke-width="0.6" opacity="0.8" filter="url(#bl03)"/>
<circle cx="444.4" cy="179.8" r="1.1" fill="#dcdcdc" stroke="#8a8a8a" stroke-width="0.6" opacity="0.8" filter="url(#bl03)"/>
<circle cx="530.1" cy="187.2" r="2.0" fill="#dcdcdc" stroke="#8a8a8a" stroke-width="0.6" opacity="0.8" filter="url(#bl03)"/>
<circle cx="580.9" cy="184.9" r="1.6" fill="#dcdcdc" stroke="#8a8a8a" stroke-width="0.6" opacity="0.8" filter="url(#bl03)"/>
<circle cx="500.3" cy="242.8" r="1.3" fill="#dcdcdc" stroke="#8a8a8a" stroke-width="0.6" opacity="0.8" filter="url(#bl03)"/>
<circle cx="461.7" cy="194.0" r="1.5" fill="#dcdcdc" stroke="#8a8a8a" stroke-width="0.6" opacity="0.8" filter="url(#bl03)"/>
<circle cx="594.2" cy="251.7" r="1.1" fill="#dcdcdc" stroke="#8a8a8a" stroke-width="0.6" opacity="0.8" filter="url(#bl03)"/>
<circle cx="594.4" cy="302.7" r="1.9" fill="#dcdcdc" stroke="#8a8a8a" stroke-width="0.6" opacity="0.8" filter="url(#bl03)"/>
<circle cx="613.8" cy="166.2" r="1.6" fill="#dcdcdc" stroke="#8a8a8a" stroke-width="0.6" opacity="0.8" filter="url(#bl03)"/>
<circle cx="436.8" cy="285.4" r="1.3" fill="#dcdcdc" stroke="#8a8a8a" stroke-width="0.6" opacity="0.8" filter="url(#bl03)"/>
<circle cx="594.5" cy="204.9" r="1.8" fill="#dcdcdc" stroke="#8a8a8a" stroke-width="0.6" opacity="0.8" filter="url(#bl03)"/>
<circle cx="497.7" cy="171.6" r="1.5" fill="#dcdcdc" stroke="#8a8a8a" stroke-width="0.6" opacity="0.8" filter="url(#bl03)"/>
<circle cx="496.6" cy="307.0" r="1.4" fill="#dcdcdc" stroke="#8a8a8a" stroke-width="0.6" opacity="0.8" filter="url(#bl03)"/>
<circle cx="543.8" cy="251.6" r="2.0" fill="#dcdcdc" stroke="#8a8a8a" stroke-width="0.6" opacity="0.8" filter="url(#bl03)"/>
<circle cx="445.3" cy="259.7" r="1.6" fill="#dcdcdc" stroke="#8a8a8a" stroke-width="0.6" opacity="0.8" filter="url(#bl03)"/>
<circle cx="600.2" cy="317.4" r="1.4" fill="#dcdcdc" stroke="#8a8a8a" stroke-width="0.6" opacity="0.8" filter="url(#bl03)"/>
<circle cx="591.6" cy="247.9" r="1.7" fill="#dcdcdc" stroke="#8a8a8a" stroke-width="0.6" opacity="0.8" filter="url(#bl03)"/>
<circle cx="436.8" cy="293.4" r="2.1" fill="#dcdcdc" stroke="#8a8a8a" stroke-width="0.6" opacity="0.8" filter="url(#bl03)"/>
<circle cx="507.8" cy="215.1" r="2.1" fill="#dcdcdc" stroke="#8a8a8a" stroke-width="0.6" opacity="0.8" filter="url(#bl03)"/>
<circle cx="447.5" cy="177.0" r="1.2" fill="#dcdcdc" stroke="#8a8a8a" stroke-width="0.6" opacity="0.8" filter="url(#bl03)"/>
<circle cx="619.6" cy="284.8" r="1.5" fill="#dcdcdc" stroke="#8a8a8a" stroke-width="0.6" opacity="0.8" filter="url(#bl03)"/>
<circle cx="572.6" cy="168.1" r="1.7" fill="#dcdcdc" stroke="#8a8a8a" stroke-width="0.6" opacity="0.8" filter="url(#bl03)"/>
<circle cx="529.1" cy="246.5" r="1.5" fill="#dcdcdc" stroke="#8a8a8a" stroke-width="0.6" opacity="0.8" filter="url(#bl03)"/>
<circle cx="519.1" cy="200.5" r="1.1" fill="#dcdcdc" stroke="#8a8a8a" stroke-width="0.6" opacity="0.8" filter="url(#bl03)"/>
<circle cx="527.0" cy="203.9" r="1.8" fill="#dcdcdc" stroke="#8a8a8a" stroke-width="0.6" opacity="0.8" filter="url(#bl03)"/>
<circle cx="620.3" cy="279.1" r="1.6" fill="#dcdcdc" stroke="#8a8a8a" stroke-width="0.6" opacity="0.8" filter="url(#bl03)"/>
<circle cx="478.9" cy="225.7" r="1.6" fill="#dcdcdc" stroke="#8a8a8a" stroke-width="0.6" opacity="0.8" filter="url(#bl03)"/>
<circle cx="575.1" cy="316.8" r="1.2" fill="#dcdcdc" stroke="#8a8a8a" stroke-width="0.6" opacity="0.8" filter="url(#bl03)"/>
<circle cx="538.1" cy="242.5" r="1.8" fill="#dcdcdc" stroke="#8a8a8a" stroke-width="0.6" opacity="0.8" filter="url(#bl03)"/>
<circle cx="638.1" cy="287.9" r="1.7" fill="#dcdcdc" stroke="#8a8a8a" stroke-width="0.6" opacity="0.8" filter="url(#bl03)"/>
<circle cx="606.0" cy="270.3" r="2.0" fill="#dcdcdc" stroke="#8a8a8a" stroke-width="0.6" opacity="0.8" filter="url(#bl03)"/>
<circle cx="591.5" cy="272.6" r="1.3" fill="#dcdcdc" stroke="#8a8a8a" stroke-width="0.6" opacity="0.8" filter="url(#bl03)"/>
<circle cx="644.5" cy="225.8" r="1.7" fill="#dcdcdc" stroke="#8a8a8a" stroke-width="0.6" opacity="0.8" filter="url(#bl03)"/>
<circle cx="622.1" cy="316.9" r="2.1" fill="#dcdcdc" stroke="#8a8a8a" stroke-width="0.6" opacity="0.8" filter="url(#bl03)"/>
<circle cx="422.9" cy="214.3" r="1.4" fill="#dcdcdc" stroke="#8a8a8a" stroke-width="0.6" opacity="0.8" filter="url(#bl03)"/>
<circle cx="516.6" cy="187.9" r="1.7" fill="#dcdcdc" stroke="#8a8a8a" stroke-width="0.6" opacity="0.8" filter="url(#bl03)"/>
<circle cx="440.7" cy="212.7" r="2.0" fill="#dcdcdc" stroke="#8a8a8a" stroke-width="0.6" opacity="0.8" filter="url(#bl03)"/>
<circle cx="602.1" cy="237.9" r="1.2" fill="#dcdcdc" stroke="#8a8a8a" stroke-width="0.6" opacity="0.8" filter="url(#bl03)"/>
<circle cx="654.1" cy="275.9" r="1.3" fill="#dcdcdc" stroke="#8a8a8a" stroke-width="0.6" opacity="0.8" filter="url(#bl03)"/>
<circle cx="502.9" cy="266.1" r="1.8" fill="#dcdcdc" stroke="#8a8a8a" stroke-width="0.6" opacity="0.8" filter="url(#bl03)"/>
<circle cx="484.8" cy="314.9" r="1.4" fill="#dcdcdc" stroke="#8a8a8a" stroke-width="0.6" opacity="0.8" filter="url(#bl03)"/>
<circle cx="483.2" cy="298.2" r="1.3" fill="#dcdcdc" stroke="#8a8a8a" stroke-width="0.6" opacity="0.8" filter="url(#bl03)"/>
<circle cx="587.2" cy="196.5" r="1.7" fill="#dcdcdc" stroke="#8a8a8a" stroke-width="0.6" opacity="0.8" filter="url(#bl03)"/>
<circle cx="488.8" cy="224.7" r="2.0" fill="#dcdcdc" stroke="#8a8a8a" stroke-width="0.6" opacity="0.8" filter="url(#bl03)"/>
<circle cx="535.0" cy="233.9" r="1.7" fill="#dcdcdc" stroke="#8a8a8a" stroke-width="0.6" opacity="0.8" filter="url(#bl03)"/>
<circle cx="489.6" cy="192.5" r="1.5" fill="#dcdcdc" stroke="#8a8a8a" stroke-width="0.6" opacity="0.8" filter="url(#bl03)"/>
<circle cx="487.6" cy="194.7" r="2.1" fill="#dcdcdc" stroke="#8a8a8a" stroke-width="0.6" opacity="0.8" filter="url(#bl03)"/>
<circle cx="429.7" cy="292.7" r="2.0" fill="#dcdcdc" stroke="#8a8a8a" stroke-width="0.6" opacity="0.8" filter="url(#bl03)"/>
<circle cx="592.9" cy="168.0" r="1.6" fill="#dcdcdc" stroke="#8a8a8a" stroke-width="0.6" opacity="0.8" filter="url(#bl03)"/>
<circle cx="430.9" cy="260.8" r="1.8" fill="#dcdcdc" stroke="#8a8a8a" stroke-width="0.6" opacity="0.8" filter="url(#bl03)"/>
<circle cx="479.8" cy="166.2" r="1.6" fill="#dcdcdc" stroke="#8a8a8a" stroke-width="0.6" opacity="0.8" filter="url(#bl03)"/>
<circle cx="444.3" cy="213.7" r="1.6" fill="#dcdcdc" stroke="#8a8a8a" stroke-width="0.6" opacity="0.8" filter="url(#bl03)"/>
<circle cx="639.1" cy="223.3" r="1.2" fill="#dcdcdc" stroke="#8a8a8a" stroke-width="0.6" opacity="0.8" filter="url(#bl03)"/>
<circle cx="614.1" cy="294.6" r="1.6" fill="#dcdcdc" stroke="#8a8a8a" stroke-width="0.6" opacity="0.8" filter="url(#bl03)"/>
<circle cx="433.3" cy="194.6" r="1.5" fill="#dcdcdc" stroke="#8a8a8a" stroke-width="0.6" opacity="0.8" filter="url(#bl03)"/>
<circle cx="555.7" cy="200.5" r="1.9" fill="#dcdcdc" stroke="#8a8a8a" stroke-width="0.6" opacity="0.8" filter="url(#bl03)"/>
<circle cx="626.7" cy="310.8" r="2.0" fill="#dcdcdc" stroke="#8a8a8a" stroke-width="0.6" opacity="0.8" filter="url(#bl03)"/>
<circle cx="425.6" cy="256.7" r="1.2" fill="#dcdcdc" stroke="#8a8a8a" stroke-width="0.6" opacity="0.8" filter="url(#bl03)"/>
<circle cx="640.4" cy="282.7" r="1.9" fill="#dcdcdc" stroke="#8a8a8a" stroke-width="0.6" opacity="0.8" filter="url(#bl03)"/>
<circle cx="467.1" cy="174.4" r="1.9" fill="#dcdcdc" stroke="#8a8a8a" stroke-width="0.6" opacity="0.8" filter="url(#bl03)"/>
<circle cx="569.0" cy="262.8" r="1.6" fill="#dcdcdc" stroke="#8a8a8a" stroke-width="0.6" opacity="0.8" filter="url(#bl03)"/>
<circle cx="616.1" cy="218.3" r="1.4" fill="#dcdcdc" stroke="#8a8a8a" stroke-width="0.6" opacity="0.8" filter="url(#bl03)"/>
<circle cx="507.3" cy="212.0" r="1.7" fill="#dcdcdc" stroke="#8a8a8a" stroke-width="0.6" opacity="0.8" filter="url(#bl03)"/>
<circle cx="638.1" cy="176.2" r="1.2" fill="#dcdcdc" stroke="#8a8a8a" stroke-width="0.6" opacity="0.8" filter="url(#bl03)"/>
<circle cx="545.9" cy="271.9" r="1.3" fill="#dcdcdc" stroke="#8a8a8a" stroke-width="0.6" opacity="0.8" filter="url(#bl03)"/>
<circle cx="487.0" cy="174.3" r="1.1" fill="#dcdcdc" stroke="#8a8a8a" stroke-width="0.6" opacity="0.8" filter="url(#bl03)"/>
<circle cx="541.8" cy="272.3" r="1.8" fill="#dcdcdc" stroke="#8a8a8a" stroke-width="0.6" opacity="0.8" filter="url(#bl03)"/>
<circle cx="459.8" cy="181.4" r="2.0" fill="#dcdcdc" stroke="#8a8a8a" stroke-width="0.6" opacity="0.8" filter="url(#bl03)"/>
<circle cx="552.4" cy="229.4" r="1.8" fill="#dcdcdc" stroke="#8a8a8a" stroke-width="0.6" opacity="0.8" filter="url(#bl03)"/>
<circle cx="598.5" cy="247.7" r="1.2" fill="#dcdcdc" stroke="#8a8a8a" stroke-width="0.6" opacity="0.8" filter="url(#bl03)"/>
<circle cx="622.7" cy="198.7" r="1.1" fill="#dcdcdc" stroke="#8a8a8a" stroke-width="0.6" opacity="0.8" filter="url(#bl03)"/>
<circle cx="507.1" cy="248.9" r="1.7" fill="#dcdcdc" stroke="#8a8a8a" stroke-width="0.6" opacity="0.8" filter="url(#bl03)"/>
<circle cx="463.7" cy="276.8" r="1.6" fill="#dcdcdc" stroke="#8a8a8a" stroke-width="0.6" opacity="0.8" filter="url(#bl03)"/>
<circle cx="460.7" cy="299.1" r="1.9" fill="#dcdcdc" stroke="#8a8a8a" stroke-width="0.6" opacity="0.8" filter="url(#bl03)"/>
<circle cx="642.0" cy="272.1" r="1.3" fill="#dcdcdc" stroke="#8a8a8a" stroke-width="0.6" opacity="0.8" filter="url(#bl03)"/>
<circle cx="610.7" cy="307.3" r="1.6" fill="#dcdcdc" stroke="#8a8a8a" stroke-width="0.6" opacity="0.8" filter="url(#bl03)"/>
<circle cx="642.5" cy="317.9" r="1.5" fill="#dcdcdc" stroke="#8a8a8a" stroke-width="0.6" opacity="0.8" filter="url(#bl03)"/>
<circle cx="650.6" cy="312.6" r="1.9" fill="#dcdcdc" stroke="#8a8a8a" stroke-width="0.6" opacity="0.8" filter="url(#bl03)"/>
<circle cx="424.0" cy="220.5" r="1.7" fill="#dcdcdc" stroke="#8a8a8a" stroke-width="0.6" opacity="0.8" filter="url(#bl03)"/>
<circle cx="569.2" cy="284.1" r="1.7" fill="#dcdcdc" stroke="#8a8a8a" stroke-width="0.6" opacity="0.8" filter="url(#bl03)"/>
<circle cx="460.6" cy="311.7" r="1.6" fill="#dcdcdc" stroke="#8a8a8a" stroke-width="0.6" opacity="0.8" filter="url(#bl03)"/>
<circle cx="636.0" cy="197.6" r="2.1" fill="#dcdcdc" stroke="#8a8a8a" stroke-width="0.6" opacity="0.8" filter="url(#bl03)"/>
<circle cx="556.4" cy="287.2" r="1.8" fill="#dcdcdc" stroke="#8a8a8a" stroke-width="0.6" opacity="0.8" filter="url(#bl03)"/>
<circle cx="636.3" cy="222.1" r="1.2" fill="#dcdcdc" stroke="#8a8a8a" stroke-width="0.6" opacity="0.8" filter="url(#bl03)"/>
<circle cx="520.1" cy="193.1" r="1.6" fill="#dcdcdc" stroke="#8a8a8a" stroke-width="0.6" opacity="0.8" filter="url(#bl03)"/>
<circle cx="619.7" cy="222.1" r="1.2" fill="#dcdcdc" stroke="#8a8a8a" stroke-width="0.6" opacity="0.8" filter="url(#bl03)"/>
<circle cx="427.9" cy="231.7" r="1.7" fill="#dcdcdc" stroke="#8a8a8a" stroke-width="0.6" opacity="0.8" filter="url(#bl03)"/>
<circle cx="427.7" cy="269.9" r="1.3" fill="#dcdcdc" stroke="#8a8a8a" stroke-width="0.6" opacity="0.8" filter="url(#bl03)"/>
<circle cx="447.4" cy="311.2" r="1.6" fill="#dcdcdc" stroke="#8a8a8a" stroke-width="0.6" opacity="0.8" filter="url(#bl03)"/>
<circle cx="639.3" cy="246.0" r="1.2" fill="#dcdcdc" stroke="#8a8a8a" stroke-width="0.6" opacity="0.8" filter="url(#bl03)"/>
<circle cx="479.8" cy="231.9" r="1.7" fill="#dcdcdc" stroke="#8a8a8a" stroke-width="0.6" opacity="0.8" filter="url(#bl03)"/>
<circle cx="609.0" cy="283.4" r="1.8" fill="#dcdcdc" stroke="#8a8a8a" stroke-width="0.6" opacity="0.8" filter="url(#bl03)"/>
<circle cx="482.9" cy="232.8" r="1.5" fill="#dcdcdc" stroke="#8a8a8a" stroke-width="0.6" opacity="0.8" filter="url(#bl03)"/>
<circle cx="540.5" cy="206.8" r="1.6" fill="#dcdcdc" stroke="#8a8a8a" stroke-width="0.6" opacity="0.8" filter="url(#bl03)"/>
<circle cx="533.0" cy="170.6" r="1.9" fill="#dcdcdc" stroke="#8a8a8a" stroke-width="0.6" opacity="0.8" filter="url(#bl03)"/>
<circle cx="564.1" cy="291.5" r="1.8" fill="#dcdcdc" stroke="#8a8a8a" stroke-width="0.6" opacity="0.8" filter="url(#bl03)"/>
<circle cx="599.3" cy="321.6" r="1.5" fill="#dcdcdc" stroke="#8a8a8a" stroke-width="0.6" opacity="0.8" filter="url(#bl03)"/>
<circle cx="517.1" cy="165.6" r="1.8" fill="#dcdcdc" stroke="#8a8a8a" stroke-width="0.6" opacity="0.8" filter="url(#bl03)"/>
<circle cx="562.9" cy="255.8" r="2.1" fill="#dcdcdc" stroke="#8a8a8a" stroke-width="0.6" opacity="0.8" filter="url(#bl03)"/>
<circle cx="469.3" cy="200.8" r="1.8" fill="#dcdcdc" stroke="#8a8a8a" stroke-width="0.6" opacity="0.8" filter="url(#bl03)"/>
<circle cx="619.1" cy="241.1" r="1.2" fill="#dcdcdc" stroke="#8a8a8a" stroke-width="0.6" opacity="0.8" filter="url(#bl03)"/>
<circle cx="511.5" cy="295.2" r="1.6" fill="#dcdcdc" stroke="#8a8a8a" stroke-width="0.6" opacity="0.8" filter="url(#bl03)"/>
<circle cx="533.7" cy="226.4" r="1.7" fill="#dcdcdc" stroke="#8a8a8a" stroke-width="0.6" opacity="0.8" filter="url(#bl03)"/>
<circle cx="567.0" cy="274.2" r="2.0" fill="#dcdcdc" stroke="#8a8a8a" stroke-width="0.6" opacity="0.8" filter="url(#bl03)"/>
<circle cx="604.2" cy="224.1" r="1.4" fill="#dcdcdc" stroke="#8a8a8a" stroke-width="0.6" opacity="0.8" filter="url(#bl03)"/>
<circle cx="611.7" cy="290.0" r="2.0" fill="#dcdcdc" stroke="#8a8a8a" stroke-width="0.6" opacity="0.8" filter="url(#bl03)"/>
<circle cx="469.7" cy="298.6" r="2.0" fill="#dcdcdc" stroke="#8a8a8a" stroke-width="0.6" opacity="0.8" filter="url(#bl03)"/>
<circle cx="440.1" cy="213.5" r="1.7" fill="#dcdcdc" stroke="#8a8a8a" stroke-width="0.6" opacity="0.8" filter="url(#bl03)"/>
<circle cx="456.9" cy="296.0" r="1.4" fill="#dcdcdc" stroke="#8a8a8a" stroke-width="0.6" opacity="0.8" filter="url(#bl03)"/>
<circle cx="587.5" cy="211.6" r="1.3" fill="#dcdcdc" stroke="#8a8a8a" stroke-width="0.6" opacity="0.8" filter="url(#bl03)"/>
<circle cx="471.7" cy="243.4" r="1.8" fill="#dcdcdc" stroke="#8a8a8a" stroke-width="0.6" opacity="0.8" filter="url(#bl03)"/>
<circle cx="474.3" cy="273.2" r="1.4" fill="#dcdcdc" stroke="#8a8a8a" stroke-width="0.6" opacity="0.8" filter="url(#bl03)"/>
<circle cx="579.4" cy="223.0" r="1.3" fill="#dcdcdc" stroke="#8a8a8a" stroke-width="0.6" opacity="0.8" filter="url(#bl03)"/>
<circle cx="455.6" cy="174.1" r="1.8" fill="#dcdcdc" stroke="#8a8a8a" stroke-width="0.6" opacity="0.8" filter="url(#bl03)"/>
<circle cx="522.0" cy="184.4" r="2.0" fill="#dcdcdc" stroke="#8a8a8a" stroke-width="0.6" opacity="0.8" filter="url(#bl03)"/>
<circle cx="580.7" cy="168.3" r="1.8" fill="#dcdcdc" stroke="#8a8a8a" stroke-width="0.6" opacity="0.8" filter="url(#bl03)"/>
<circle cx="566.1" cy="234.9" r="1.6" fill="#dcdcdc" stroke="#8a8a8a" stroke-width="0.6" opacity="0.8" filter="url(#bl03)"/>
<circle cx="655.6" cy="223.9" r="1.7" fill="#dcdcdc" stroke="#8a8a8a" stroke-width="0.6" opacity="0.8" filter="url(#bl03)"/>
<circle cx="576.1" cy="222.6" r="1.4" fill="#dcdcdc" stroke="#8a8a8a" stroke-width="0.6" opacity="0.8" filter="url(#bl03)"/>
<circle cx="605.1" cy="265.2" r="1.6" fill="#dcdcdc" stroke="#8a8a8a" stroke-width="0.6" opacity="0.8" filter="url(#bl03)"/>
<circle cx="546.4" cy="200.2" r="1.9" fill="#dcdcdc" stroke="#8a8a8a" stroke-width="0.6" opacity="0.8" filter="url(#bl03)"/>
<circle cx="426.1" cy="266.4" r="1.6" fill="#dcdcdc" stroke="#8a8a8a" stroke-width="0.6" opacity="0.8" filter="url(#bl03)"/>
<circle cx="475.2" cy="257.5" r="1.7" fill="#dcdcdc" stroke="#8a8a8a" stroke-width="0.6" opacity="0.8" filter="url(#bl03)"/>
<circle cx="442.4" cy="242.2" r="1.3" fill="#dcdcdc" stroke="#8a8a8a" stroke-width="0.6" opacity="0.8" filter="url(#bl03)"/>
<circle cx="615.9" cy="216.5" r="1.4" fill="#dcdcdc" stroke="#8a8a8a" stroke-width="0.6" opacity="0.8" filter="url(#bl03)"/>
<circle cx="473.7" cy="172.6" r="1.3" fill="#dcdcdc" stroke="#8a8a8a" stroke-width="0.6" opacity="0.8" filter="url(#bl03)"/>
<circle cx="458.2" cy="263.4" r="1.9" fill="#dcdcdc" stroke="#8a8a8a" stroke-width="0.6" opacity="0.8" filter="url(#bl03)"/>
<circle cx="475.1" cy="182.6" r="1.6" fill="#dcdcdc" stroke="#8a8a8a" stroke-width="0.6" opacity="0.8" filter="url(#bl03)"/>
<circle cx="449.5" cy="228.9" r="1.9" fill="#dcdcdc" stroke="#8a8a8a" stroke-width="0.6" opacity="0.8" filter="url(#bl03)"/>
<circle cx="470.8" cy="275.3" r="1.6" fill="#dcdcdc" stroke="#8a8a8a" stroke-width="0.6" opacity="0.8" filter="url(#bl03)"/>
<circle cx="442.0" cy="203.2" r="1.7" fill="#dcdcdc" stroke="#8a8a8a" stroke-width="0.6" opacity="0.8" filter="url(#bl03)"/>
<circle cx="444.7" cy="197.1" r="1.7" fill="#dcdcdc" stroke="#8a8a8a" stroke-width="0.6" opacity="0.8" filter="url(#bl03)"/>
<circle cx="620.5" cy="247.0" r="1.8" fill="#dcdcdc" stroke="#8a8a8a" stroke-width="0.6" opacity="0.8" filter="url(#bl03)"/>
<circle cx="423.5" cy="212.7" r="1.4" fill="#dcdcdc" stroke="#8a8a8a" stroke-width="0.6" opacity="0.8" filter="url(#bl03)"/>
<circle cx="643.7" cy="221.3" r="1.9" fill="#dcdcdc" stroke="#8a8a8a" stroke-width="0.6" opacity="0.8" filter="url(#bl03)"/>
<circle cx="429.7" cy="243.6" r="2.0" fill="#dcdcdc" stroke="#8a8a8a" stroke-width="0.6" opacity="0.8" filter="url(#bl03)"/>
<circle cx="609.1" cy="256.4" r="1.3" fill="#dcdcdc" stroke="#8a8a8a" stroke-width="0.6" opacity="0.8" filter="url(#bl03)"/>
<circle cx="646.8" cy="177.6" r="2.1" fill="#dcdcdc" stroke="#8a8a8a" stroke-width="0.6" opacity="0.8" filter="url(#bl03)"/>
<circle cx="610.3" cy="278.4" r="1.6" fill="#dcdcdc" stroke="#8a8a8a" stroke-width="0.6" opacity="0.8" filter="url(#bl03)"/>
<circle cx="461.2" cy="218.7" r="1.8" fill="#dcdcdc" stroke="#8a8a8a" stroke-width="0.6" opacity="0.8" filter="url(#bl03)"/>
<circle cx="581.0" cy="226.4" r="1.9" fill="#dcdcdc" stroke="#8a8a8a" stroke-width="0.6" opacity="0.8" filter="url(#bl03)"/>
<circle cx="434.3" cy="210.3" r="1.2" fill="#dcdcdc" stroke="#8a8a8a" stroke-width="0.6" opacity="0.8" filter="url(#bl03)"/>
<circle cx="500.4" cy="290.0" r="1.9" fill="#dcdcdc" stroke="#8a8a8a" stroke-width="0.6" opacity="0.8" filter="url(#bl03)"/>
<circle cx="457.7" cy="213.6" r="1.2" fill="#dcdcdc" stroke="#8a8a8a" stroke-width="0.6" opacity="0.8" filter="url(#bl03)"/>
<circle cx="582.5" cy="234.8" r="1.3" fill="#dcdcdc" stroke="#8a8a8a" stroke-width="0.6" opacity="0.8" filter="url(#bl03)"/>
<circle cx="512.4" cy="301.4" r="1.5" fill="#dcdcdc" stroke="#8a8a8a" stroke-width="0.6" opacity="0.8" filter="url(#bl03)"/>
<circle cx="589.5" cy="263.9" r="1.6" fill="#dcdcdc" stroke="#8a8a8a" stroke-width="0.6" opacity="0.8" filter="url(#bl03)"/>
<circle cx="556.8" cy="222.3" r="1.3" fill="#dcdcdc" stroke="#8a8a8a" stroke-width="0.6" opacity="0.8" filter="url(#bl03)"/>
<circle cx="541.7" cy="213.0" r="1.4" fill="#dcdcdc" stroke="#8a8a8a" stroke-width="0.6" opacity="0.8" filter="url(#bl03)"/>
<circle cx="466.7" cy="308.9" r="1.5" fill="#dcdcdc" stroke="#8a8a8a" stroke-width="0.6" opacity="0.8" filter="url(#bl03)"/>
<circle cx="470.1" cy="170.0" r="1.3" fill="#dcdcdc" stroke="#8a8a8a" stroke-width="0.6" opacity="0.8" filter="url(#bl03)"/>
<circle cx="632.8" cy="218.1" r="1.8" fill="#dcdcdc" stroke="#8a8a8a" stroke-width="0.6" opacity="0.8" filter="url(#bl03)"/>
<circle cx="477.4" cy="267.5" r="1.6" fill="#dcdcdc" stroke="#8a8a8a" stroke-width="0.6" opacity="0.8" filter="url(#bl03)"/>
<circle cx="600.6" cy="248.3" r="1.5" fill="#dcdcdc" stroke="#8a8a8a" stroke-width="0.6" opacity="0.8" filter="url(#bl03)"/>
<circle cx="489.5" cy="258.7" r="1.9" fill="#dcdcdc" stroke="#8a8a8a" stroke-width="0.6" opacity="0.8" filter="url(#bl03)"/>
<circle cx="589.7" cy="240.7" r="1.4" fill="#dcdcdc" stroke="#8a8a8a" stroke-width="0.6" opacity="0.8" filter="url(#bl03)"/>
<circle cx="638.4" cy="298.4" r="1.2" fill="#dcdcdc" stroke="#8a8a8a" stroke-width="0.6" opacity="0.8" filter="url(#bl03)"/>
<circle cx="586.7" cy="286.7" r="1.8" fill="#dcdcdc" stroke="#8a8a8a" stroke-width="0.6" opacity="0.8" filter="url(#bl03)"/>
<circle cx="656.1" cy="303.5" r="1.3" fill="#dcdcdc" stroke="#8a8a8a" stroke-width="0.6" opacity="0.8" filter="url(#bl03)"/>
<circle cx="664.0" cy="216.6" r="1.5" fill="#dcdcdc" stroke="#8a8a8a" stroke-width="0.6" opacity="0.8" filter="url(#bl03)"/>
<circle cx="659.1" cy="191.4" r="1.5" fill="#dcdcdc" stroke="#8a8a8a" stroke-width="0.6" opacity="0.8" filter="url(#bl03)"/>
<circle cx="573.7" cy="208.0" r="1.4" fill="#dcdcdc" stroke="#8a8a8a" stroke-width="0.6" opacity="0.8" filter="url(#bl03)"/>
<circle cx="614.7" cy="261.5" r="1.8" fill="#dcdcdc" stroke="#8a8a8a" stroke-width="0.6" opacity="0.8" filter="url(#bl03)"/>
<circle cx="613.6" cy="302.4" r="2.0" fill="#dcdcdc" stroke="#8a8a8a" stroke-width="0.6" opacity="0.8" filter="url(#bl03)"/>
<circle cx="621.8" cy="319.2" r="1.6" fill="#dcdcdc" stroke="#8a8a8a" stroke-width="0.6" opacity="0.8" filter="url(#bl03)"/>
<circle cx="592.1" cy="246.0" r="2.1" fill="#dcdcdc" stroke="#8a8a8a" stroke-width="0.6" opacity="0.8" filter="url(#bl03)"/>
<circle cx="580.8" cy="232.9" r="1.8" fill="#dcdcdc" stroke="#8a8a8a" stroke-width="0.6" opacity="0.8" filter="url(#bl03)"/>
<circle cx="493.1" cy="185.4" r="1.5" fill="#dcdcdc" stroke="#8a8a8a" stroke-width="0.6" opacity="0.8" filter="url(#bl03)"/>
<circle cx="454.6" cy="165.6" r="1.2" fill="#dcdcdc" stroke="#8a8a8a" stroke-width="0.6" opacity="0.8" filter="url(#bl03)"/>
<circle cx="531.9" cy="285.3" r="1.1" fill="#dcdcdc" stroke="#8a8a8a" stroke-width="0.6" opacity="0.8" filter="url(#bl03)"/>
<circle cx="576.3" cy="182.5" r="1.6" fill="#dcdcdc" stroke="#8a8a8a" stroke-width="0.6" opacity="0.8" filter="url(#bl03)"/>
<circle cx="493.3" cy="235.3" r="1.8" fill="#dcdcdc" stroke="#8a8a8a" stroke-width="0.6" opacity="0.8" filter="url(#bl03)"/>
<circle cx="522.0" cy="226.7" r="1.8" fill="#dcdcdc" stroke="#8a8a8a" stroke-width="0.6" opacity="0.8" filter="url(#bl03)"/>
<circle cx="449.5" cy="220.0" r="1.8" fill="#dcdcdc" stroke="#8a8a8a" stroke-width="0.6" opacity="0.8" filter="url(#bl03)"/>
<circle cx="624.6" cy="319.4" r="1.4" fill="#dcdcdc" stroke="#8a8a8a" stroke-width="0.6" opacity="0.8" filter="url(#bl03)"/>
<circle cx="573.5" cy="214.3" r="1.8" fill="#dcdcdc" stroke="#8a8a8a" stroke-width="0.6" opacity="0.8" filter="url(#bl03)"/>
<circle cx="627.3" cy="186.3" r="1.4" fill="#dcdcdc" stroke="#8a8a8a" stroke-width="0.6" opacity="0.8" filter="url(#bl03)"/>
<circle cx="649.3" cy="220.5" r="1.7" fill="#dcdcdc" stroke="#8a8a8a" stroke-width="0.6" opacity="0.8" filter="url(#bl03)"/>
<circle cx="620.6" cy="208.9" r="1.9" fill="#dcdcdc" stroke="#8a8a8a" stroke-width="0.6" opacity="0.8" filter="url(#bl03)"/>
<circle cx="422.2" cy="218.7" r="1.3" fill="#dcdcdc" stroke="#8a8a8a" stroke-width="0.6" opacity="0.8" filter="url(#bl03)"/>
<circle cx="505.5" cy="198.6" r="1.1" fill="#dcdcdc" stroke="#8a8a8a" stroke-width="0.6" opacity="0.8" filter="url(#bl03)"/>
<circle cx="616.9" cy="192.3" r="1.7" fill="#dcdcdc" stroke="#8a8a8a" stroke-width="0.6" opacity="0.8" filter="url(#bl03)"/>
<circle cx="556.2" cy="298.9" r="1.9" fill="#dcdcdc" stroke="#8a8a8a" stroke-width="0.6" opacity="0.8" filter="url(#bl03)"/>
<circle cx="572.7" cy="191.6" r="1.9" fill="#dcdcdc" stroke="#8a8a8a" stroke-width="0.6" opacity="0.8" filter="url(#bl03)"/>
<circle cx="445.0" cy="311.3" r="1.4" fill="#dcdcdc" stroke="#8a8a8a" stroke-width="0.6" opacity="0.8" filter="url(#bl03)"/>
<circle cx="482.8" cy="199.1" r="1.5" fill="#dcdcdc" stroke="#8a8a8a" stroke-width="0.6" opacity="0.8" filter="url(#bl03)"/>
<circle cx="614.0" cy="299.7" r="1.8" fill="#dcdcdc" stroke="#8a8a8a" stroke-width="0.6" opacity="0.8" filter="url(#bl03)"/>
<circle cx="598.9" cy="203.5" r="1.4" fill="#dcdcdc" stroke="#8a8a8a" stroke-width="0.6" opacity="0.8" filter="url(#bl03)"/>
<circle cx="495.4" cy="233.3" r="2.0" fill="#dcdcdc" stroke="#8a8a8a" stroke-width="0.6" opacity="0.8" filter="url(#bl03)"/>
<circle cx="663.8" cy="178.2" r="2.1" fill="#dcdcdc" stroke="#8a8a8a" stroke-width="0.6" opacity="0.8" filter="url(#bl03)"/>
<circle cx="644.9" cy="237.6" r="1.8" fill="#dcdcdc" stroke="#8a8a8a" stroke-width="0.6" opacity="0.8" filter="url(#bl03)"/>
<circle cx="612.3" cy="194.4" r="1.7" fill="#dcdcdc" stroke="#8a8a8a" stroke-width="0.6" opacity="0.8" filter="url(#bl03)"/>
<circle cx="660.3" cy="303.7" r="2.0" fill="#dcdcdc" stroke="#8a8a8a" stroke-width="0.6" opacity="0.8" filter="url(#bl03)"/>
<circle cx="441.9" cy="277.6" r="1.6" fill="#dcdcdc" stroke="#8a8a8a" stroke-width="0.6" opacity="0.8" filter="url(#bl03)"/>
<circle cx="642.7" cy="191.3" r="1.6" fill="#dcdcdc" stroke="#8a8a8a" stroke-width="0.6" opacity="0.8" filter="url(#bl03)"/>
<circle cx="450.7" cy="291.8" r="1.8" fill="#dcdcdc" stroke="#8a8a8a" stroke-width="0.6" opacity="0.8" filter="url(#bl03)"/>
<circle cx="428.9" cy="213.8" r="1.2" fill="#dcdcdc" stroke="#8a8a8a" stroke-width="0.6" opacity="0.8" filter="url(#bl03)"/>
<circle cx="576.0" cy="264.3" r="1.2" fill="#dcdcdc" stroke="#8a8a8a" stroke-width="0.6" opacity="0.8" filter="url(#bl03)"/>
<circle cx="652.8" cy="317.1" r="1.5" fill="#dcdcdc" stroke="#8a8a8a" stroke-width="0.6" opacity="0.8" filter="url(#bl03)"/>
<circle cx="561.1" cy="222.3" r="1.7" fill="#dcdcdc" stroke="#8a8a8a" stroke-width="0.6" opacity="0.8" filter="url(#bl03)"/>
<circle cx="518.3" cy="234.5" r="1.8" fill="#dcdcdc" stroke="#8a8a8a" stroke-width="0.6" opacity="0.8" filter="url(#bl03)"/>
<circle cx="466.7" cy="212.0" r="1.9" fill="#dcdcdc" stroke="#8a8a8a" stroke-width="0.6" opacity="0.8" filter="url(#bl03)"/>
<circle cx="476.1" cy="175.8" r="2.0" fill="#dcdcdc" stroke="#8a8a8a" stroke-width="0.6" opacity="0.8" filter="url(#bl03)"/>
<circle cx="460.1" cy="229.8" r="1.4" fill="#dcdcdc" stroke="#8a8a8a" stroke-width="0.6" opacity="0.8" filter="url(#bl03)"/>
<circle cx="485.0" cy="220.5" r="1.6" fill="#dcdcdc" stroke="#8a8a8a" stroke-width="0.6" opacity="0.8" filter="url(#bl03)"/>
<circle cx="449.6" cy="249.0" r="1.2" fill="#dcdcdc" stroke="#8a8a8a" stroke-width="0.6" opacity="0.8" filter="url(#bl03)"/>
<circle cx="440.5" cy="196.9" r="1.3" fill="#dcdcdc" stroke="#8a8a8a" stroke-width="0.6" opacity="0.8" filter="url(#bl03)"/>
<circle cx="504.5" cy="210.9" r="1.9" fill="#dcdcdc" stroke="#8a8a8a" stroke-width="0.6" opacity="0.8" filter="url(#bl03)"/>
<circle cx="581.5" cy="239.6" r="1.9" fill="#dcdcdc" stroke="#8a8a8a" stroke-width="0.6" opacity="0.8" filter="url(#bl03)"/>
<circle cx="588.3" cy="214.7" r="1.7" fill="#dcdcdc" stroke="#8a8a8a" stroke-width="0.6" opacity="0.8" filter="url(#bl03)"/>
<circle cx="602.8" cy="249.2" r="1.9" fill="#dcdcdc" stroke="#8a8a8a" stroke-width="0.6" opacity="0.8" filter="url(#bl03)"/>
<circle cx="575.4" cy="311.2" r="1.4" fill="#dcdcdc" stroke="#8a8a8a" stroke-width="0.6" opacity="0.8" filter="url(#bl03)"/>
<circle cx="584.8" cy="318.9" r="1.6" fill="#dcdcdc" stroke="#8a8a8a" stroke-width="0.6" opacity="0.8" filter="url(#bl03)"/>
<circle cx="641.7" cy="179.9" r="1.8" fill="#dcdcdc" stroke="#8a8a8a" stroke-width="0.6" opacity="0.8" filter="url(#bl03)"/>
<circle cx="485.9" cy="283.2" r="1.5" fill="#dcdcdc" stroke="#8a8a8a" stroke-width="0.6" opacity="0.8" filter="url(#bl03)"/>
<circle cx="551.6" cy="204.2" r="1.4" fill="#dcdcdc" stroke="#8a8a8a" stroke-width="0.6" opacity="0.8" filter="url(#bl03)"/>
<circle cx="632.0" cy="266.4" r="1.7" fill="#dcdcdc" stroke="#8a8a8a" stroke-width="0.6" opacity="0.8" filter="url(#bl03)"/>
<circle cx="449.5" cy="211.2" r="2.1" fill="#dcdcdc" stroke="#8a8a8a" stroke-width="0.6" opacity="0.8" filter="url(#bl03)"/>
<circle cx="470.8" cy="249.8" r="1.8" fill="#dcdcdc" stroke="#8a8a8a" stroke-width="0.6" opacity="0.8" filter="url(#bl03)"/>
<circle cx="545.6" cy="252.4" r="2.1" fill="#dcdcdc" stroke="#8a8a8a" stroke-width="0.6" opacity="0.8" filter="url(#bl03)"/>
<circle cx="611.6" cy="202.4" r="1.5" fill="#dcdcdc" stroke="#8a8a8a" stroke-width="0.6" opacity="0.8" filter="url(#bl03)"/>
<circle cx="523.5" cy="272.8" r="1.8" fill="#dcdcdc" stroke="#8a8a8a" stroke-width="0.6" opacity="0.8" filter="url(#bl03)"/>
<circle cx="484.9" cy="274.1" r="1.5" fill="#dcdcdc" stroke="#8a8a8a" stroke-width="0.6" opacity="0.8" filter="url(#bl03)"/>
<circle cx="425.0" cy="211.0" r="1.5" fill="#dcdcdc" stroke="#8a8a8a" stroke-width="0.6" opacity="0.8" filter="url(#bl03)"/>
<circle cx="469.3" cy="270.7" r="2.1" fill="#dcdcdc" stroke="#8a8a8a" stroke-width="0.6" opacity="0.8" filter="url(#bl03)"/>
<circle cx="648.1" cy="264.2" r="2.0" fill="#dcdcdc" stroke="#8a8a8a" stroke-width="0.6" opacity="0.8" filter="url(#bl03)"/>
<circle cx="541.0" cy="257.5" r="2.0" fill="#dcdcdc" stroke="#8a8a8a" stroke-width="0.6" opacity="0.8" filter="url(#bl03)"/>
<circle cx="435.8" cy="222.1" r="1.5" fill="#dcdcdc" stroke="#8a8a8a" stroke-width="0.6" opacity="0.8" filter="url(#bl03)"/>
<circle cx="504.3" cy="232.4" r="1.2" fill="#dcdcdc" stroke="#8a8a8a" stroke-width="0.6" opacity="0.8" filter="url(#bl03)"/>
<circle cx="586.7" cy="315.8" r="1.3" fill="#dcdcdc" stroke="#8a8a8a" stroke-width="0.6" opacity="0.8" filter="url(#bl03)"/>
<circle cx="466.5" cy="217.7" r="1.9" fill="#dcdcdc" stroke="#8a8a8a" stroke-width="0.6" opacity="0.8" filter="url(#bl03)"/>
<circle cx="476.5" cy="286.5" r="1.3" fill="#dcdcdc" stroke="#8a8a8a" stroke-width="0.6" opacity="0.8" filter="url(#bl03)"/>
<circle cx="566.2" cy="278.7" r="1.8" fill="#dcdcdc" stroke="#8a8a8a" stroke-width="0.6" opacity="0.8" filter="url(#bl03)"/>
<circle cx="441.9" cy="315.8" r="1.9" fill="#dcdcdc" stroke="#8a8a8a" stroke-width="0.6" opacity="0.8" filter="url(#bl03)"/>
<circle cx="538.4" cy="300.4" r="1.7" fill="#dcdcdc" stroke="#8a8a8a" stroke-width="0.6" opacity="0.8" filter="url(#bl03)"/>
<circle cx="462.3" cy="227.6" r="1.9" fill="#dcdcdc" stroke="#8a8a8a" stroke-width="0.6" opacity="0.8" filter="url(#bl03)"/>
<circle cx="534.2" cy="171.6" r="1.3" fill="#dcdcdc" stroke="#8a8a8a" stroke-width="0.6" opacity="0.8" filter="url(#bl03)"/>
<circle cx="466.6" cy="257.4" r="1.7" fill="#dcdcdc" stroke="#8a8a8a" stroke-width="0.6" opacity="0.8" filter="url(#bl03)"/>
<circle cx="530.4" cy="228.6" r="2.1" fill="#dcdcdc" stroke="#8a8a8a" stroke-width="0.6" opacity="0.8" filter="url(#bl03)"/>
<circle cx="504.8" cy="270.9" r="1.3" fill="#dcdcdc" stroke="#8a8a8a" stroke-width="0.6" opacity="0.8" filter="url(#bl03)"/>
<circle cx="546.5" cy="193.3" r="1.2" fill="#dcdcdc" stroke="#8a8a8a" stroke-width="0.6" opacity="0.8" filter="url(#bl03)"/>
<circle cx="503.3" cy="183.1" r="1.5" fill="#dcdcdc" stroke="#8a8a8a" stroke-width="0.6" opacity="0.8" filter="url(#bl03)"/>
<circle cx="580.3" cy="251.5" r="1.9" fill="#dcdcdc" stroke="#8a8a8a" stroke-width="0.6" opacity="0.8" filter="url(#bl03)"/>
<circle cx="537.5" cy="178.3" r="1.8" fill="#dcdcdc" stroke="#8a8a8a" stroke-width="0.6" opacity="0.8" filter="url(#bl03)"/>
<circle cx="519.2" cy="283.4" r="2.1" fill="#dcdcdc" stroke="#8a8a8a" stroke-width="0.6" opacity="0.8" filter="url(#bl03)"/>
<circle cx="548.9" cy="204.5" r="1.5" fill="#dcdcdc" stroke="#8a8a8a" stroke-width="0.6" opacity="0.8" filter="url(#bl03)"/>
<circle cx="542.7" cy="215.3" r="1.2" fill="#dcdcdc" stroke="#8a8a8a" stroke-width="0.6" opacity="0.8" filter="url(#bl03)"/>
<circle cx="518.3" cy="268.4" r="1.9" fill="#dcdcdc" stroke="#8a8a8a" stroke-width="0.6" opacity="0.8" filter="url(#bl03)"/>
<circle cx="606.8" cy="304.3" r="1.9" fill="#dcdcdc" stroke="#8a8a8a" stroke-width="0.6" opacity="0.8" filter="url(#bl03)"/>
<circle cx="521.5" cy="266.5" r="1.2" fill="#dcdcdc" stroke="#8a8a8a" stroke-width="0.6" opacity="0.8" filter="url(#bl03)"/>
<circle cx="614.6" cy="276.6" r="1.4" fill="#dcdcdc" stroke="#8a8a8a" stroke-width="0.6" opacity="0.8" filter="url(#bl03)"/>
<circle cx="536.3" cy="207.8" r="1.9" fill="#dcdcdc" stroke="#8a8a8a" stroke-width="0.6" opacity="0.8" filter="url(#bl03)"/>
<circle cx="525.2" cy="288.1" r="2.0" fill="#dcdcdc" stroke="#8a8a8a" stroke-width="0.6" opacity="0.8" filter="url(#bl03)"/>
<circle cx="610.7" cy="224.9" r="1.4" fill="#dcdcdc" stroke="#8a8a8a" stroke-width="0.6" opacity="0.8" filter="url(#bl03)"/>
<circle cx="651.6" cy="307.6" r="1.3" fill="#dcdcdc" stroke="#8a8a8a" stroke-width="0.6" opacity="0.8" filter="url(#bl03)"/>
<circle cx="509.5" cy="289.2" r="1.9" fill="#dcdcdc" stroke="#8a8a8a" stroke-width="0.6" opacity="0.8" filter="url(#bl03)"/>
<circle cx="490.2" cy="235.3" r="2.1" fill="#dcdcdc" stroke="#8a8a8a" stroke-width="0.6" opacity="0.8" filter="url(#bl03)"/>
<circle cx="443.3" cy="208.2" r="1.8" fill="#dcdcdc" stroke="#8a8a8a" stroke-width="0.6" opacity="0.8" filter="url(#bl03)"/>
<circle cx="642.3" cy="314.2" r="1.6" fill="#dcdcdc" stroke="#8a8a8a" stroke-width="0.6" opacity="0.8" filter="url(#bl03)"/>
<circle cx="613.7" cy="318.2" r="1.4" fill="#dcdcdc" stroke="#8a8a8a" stroke-width="0.6" opacity="0.8" filter="url(#bl03)"/>
<circle cx="476.7" cy="205.9" r="1.9" fill="#dcdcdc" stroke="#8a8a8a" stroke-width="0.6" opacity="0.8" filter="url(#bl03)"/>
<circle cx="455.3" cy="251.2" r="2.0" fill="#dcdcdc" stroke="#8a8a8a" stroke-width="0.6" opacity="0.8" filter="url(#bl03)"/>
<circle cx="470.3" cy="264.1" r="1.6" fill="#dcdcdc" stroke="#8a8a8a" stroke-width="0.6" opacity="0.8" filter="url(#bl03)"/>
<circle cx="656.6" cy="245.9" r="1.6" fill="#dcdcdc" stroke="#8a8a8a" stroke-width="0.6" opacity="0.8" filter="url(#bl03)"/>
<circle cx="641.3" cy="283.6" r="1.2" fill="#dcdcdc" stroke="#8a8a8a" stroke-width="0.6" opacity="0.8" filter="url(#bl03)"/>
<circle cx="617.0" cy="227.9" r="2.1" fill="#dcdcdc" stroke="#8a8a8a" stroke-width="0.6" opacity="0.8" filter="url(#bl03)"/>
<circle cx="655.8" cy="242.7" r="1.5" fill="#dcdcdc" stroke="#8a8a8a" stroke-width="0.6" opacity="0.8" filter="url(#bl03)"/>
<circle cx="476.6" cy="208.5" r="1.3" fill="#dcdcdc" stroke="#8a8a8a" stroke-width="0.6" opacity="0.8" filter="url(#bl03)"/>
<circle cx="462.3" cy="280.1" r="1.2" fill="#dcdcdc" stroke="#8a8a8a" stroke-width="0.6" opacity="0.8" filter="url(#bl03)"/>
<circle cx="567.1" cy="259.2" r="1.8" fill="#dcdcdc" stroke="#8a8a8a" stroke-width="0.6" opacity="0.8" filter="url(#bl03)"/>
<circle cx="559.5" cy="311.1" r="1.4" fill="#dcdcdc" stroke="#8a8a8a" stroke-width="0.6" opacity="0.8" filter="url(#bl03)"/>
<circle cx="444.0" cy="256.8" r="1.4" fill="#dcdcdc" stroke="#8a8a8a" stroke-width="0.6" opacity="0.8" filter="url(#bl03)"/>
<circle cx="661.9" cy="310.3" r="1.8" fill="#dcdcdc" stroke="#8a8a8a" stroke-width="0.6" opacity="0.8" filter="url(#bl03)"/>
<circle cx="624.3" cy="203.5" r="1.6" fill="#dcdcdc" stroke="#8a8a8a" stroke-width="0.6" opacity="0.8" filter="url(#bl03)"/>
<circle cx="514.5" cy="219.4" r="1.5" fill="#dcdcdc" stroke="#8a8a8a" stroke-width="0.6" opacity="0.8" filter="url(#bl03)"/>
<circle cx="537.6" cy="268.1" r="1.1" fill="#dcdcdc" stroke="#8a8a8a" stroke-width="0.6" opacity="0.8" filter="url(#bl03)"/>
<circle cx="552.6" cy="185.2" r="2.1" fill="#dcdcdc" stroke="#8a8a8a" stroke-width="0.6" opacity="0.8" filter="url(#bl03)"/>
<circle cx="555.7" cy="257.9" r="1.4" fill="#dcdcdc" stroke="#8a8a8a" stroke-width="0.6" opacity="0.8" filter="url(#bl03)"/>
<circle cx="593.1" cy="276.9" r="2.0" fill="#dcdcdc" stroke="#8a8a8a" stroke-width="0.6" opacity="0.8" filter="url(#bl03)"/>
<circle cx="562.7" cy="207.5" r="1.7" fill="#dcdcdc" stroke="#8a8a8a" stroke-width="0.6" opacity="0.8" filter="url(#bl03)"/>
<circle cx="433.6" cy="282.3" r="1.4" fill="#dcdcdc" stroke="#8a8a8a" stroke-width="0.6" opacity="0.8" filter="url(#bl03)"/>
<circle cx="596.5" cy="185.8" r="1.7" fill="#dcdcdc" stroke="#8a8a8a" stroke-width="0.6" opacity="0.8" filter="url(#bl03)"/>
<circle cx="462.5" cy="170.8" r="1.4" fill="#dcdcdc" stroke="#8a8a8a" stroke-width="0.6" opacity="0.8" filter="url(#bl03)"/>
<circle cx="627.9" cy="226.3" r="1.6" fill="#dcdcdc" stroke="#8a8a8a" stroke-width="0.6" opacity="0.8" filter="url(#bl03)"/>
<circle cx="613.7" cy="319.2" r="1.4" fill="#dcdcdc" stroke="#8a8a8a" stroke-width="0.6" opacity="0.8" filter="url(#bl03)"/>
<circle cx="590.3" cy="288.2" r="1.9" fill="#dcdcdc" stroke="#8a8a8a" stroke-width="0.6" opacity="0.8" filter="url(#bl03)"/>
<circle cx="505.7" cy="239.8" r="1.9" fill="#dcdcdc" stroke="#8a8a8a" stroke-width="0.6" opacity="0.8" filter="url(#bl03)"/>
<circle cx="482.4" cy="241.6" r="1.7" fill="#dcdcdc" stroke="#8a8a8a" stroke-width="0.6" opacity="0.8" filter="url(#bl03)"/>
<circle cx="628.6" cy="203.4" r="1.8" fill="#dcdcdc" stroke="#8a8a8a" stroke-width="0.6" opacity="0.8" filter="url(#bl03)"/>
<circle cx="474.2" cy="189.7" r="1.6" fill="#dcdcdc" stroke="#8a8a8a" stroke-width="0.6" opacity="0.8" filter="url(#bl03)"/>
<circle cx="579.0" cy="265.9" r="2.0" fill="#dcdcdc" stroke="#8a8a8a" stroke-width="0.6" opacity="0.8" filter="url(#bl03)"/>
<circle cx="461.3" cy="248.6" r="1.6" fill="#dcdcdc" stroke="#8a8a8a" stroke-width="0.6" opacity="0.8" filter="url(#bl03)"/>
<circle cx="484.3" cy="309.6" r="1.2" fill="#dcdcdc" stroke="#8a8a8a" stroke-width="0.6" opacity="0.8" filter="url(#bl03)"/>
<circle cx="484.7" cy="171.4" r="1.7" fill="#dcdcdc" stroke="#8a8a8a" stroke-width="0.6" opacity="0.8" filter="url(#bl03)"/>
<circle cx="581.4" cy="200.2" r="2.0" fill="#dcdcdc" stroke="#8a8a8a" stroke-width="0.6" opacity="0.8" filter="url(#bl03)"/>
<circle cx="575.9" cy="196.8" r="2.0" fill="#dcdcdc" stroke="#8a8a8a" stroke-width="0.6" opacity="0.8" filter="url(#bl03)"/>
<circle cx="629.1" cy="214.5" r="2.0" fill="#dcdcdc" stroke="#8a8a8a" stroke-width="0.6" opacity="0.8" filter="url(#bl03)"/>
<circle cx="453.0" cy="219.8" r="1.5" fill="#dcdcdc" stroke="#8a8a8a" stroke-width="0.6" opacity="0.8" filter="url(#bl03)"/>
<circle cx="653.9" cy="212.1" r="1.5" fill="#dcdcdc" stroke="#8a8a8a" stroke-width="0.6" opacity="0.8" filter="url(#bl03)"/>
<circle cx="471.8" cy="294.1" r="1.3" fill="#dcdcdc" stroke="#8a8a8a" stroke-width="0.6" opacity="0.8" filter="url(#bl03)"/>
<circle cx="627.7" cy="218.7" r="1.6" fill="#dcdcdc" stroke="#8a8a8a" stroke-width="0.6" opacity="0.8" filter="url(#bl03)"/>
<circle cx="634.7" cy="207.0" r="1.6" fill="#dcdcdc" stroke="#8a8a8a" stroke-width="0.6" opacity="0.8" filter="url(#bl03)"/>
<circle cx="576.2" cy="256.0" r="1.5" fill="#dcdcdc" stroke="#8a8a8a" stroke-width="0.6" opacity="0.8" filter="url(#bl03)"/>
<circle cx="578.6" cy="214.6" r="1.3" fill="#dcdcdc" stroke="#8a8a8a" stroke-width="0.6" opacity="0.8" filter="url(#bl03)"/>
<circle cx="423.5" cy="260.5" r="1.7" fill="#dcdcdc" stroke="#8a8a8a" stroke-width="0.6" opacity="0.8" filter="url(#bl03)"/>
<circle cx="616.0" cy="189.7" r="1.8" fill="#dcdcdc" stroke="#8a8a8a" stroke-width="0.6" opacity="0.8" filter="url(#bl03)"/>
<circle cx="531.7" cy="247.7" r="1.9" fill="#dcdcdc" stroke="#8a8a8a" stroke-width="0.6" opacity="0.8" filter="url(#bl03)"/>
<circle cx="547.7" cy="233.7" r="1.7" fill="#dcdcdc" stroke="#8a8a8a" stroke-width="0.6" opacity="0.8" filter="url(#bl03)"/>
<circle cx="457.3" cy="302.5" r="1.6" fill="#dcdcdc" stroke="#8a8a8a" stroke-width="0.6" opacity="0.8" filter="url(#bl03)"/>
<circle cx="431.6" cy="240.9" r="2.0" fill="#dcdcdc" stroke="#8a8a8a" stroke-width="0.6" opacity="0.8" filter="url(#bl03)"/>
<circle cx="659.6" cy="232.2" r="1.4" fill="#dcdcdc" stroke="#8a8a8a" stroke-width="0.6" opacity="0.8" filter="url(#bl03)"/>
<circle cx="649.3" cy="209.8" r="1.1" fill="#dcdcdc" stroke="#8a8a8a" stroke-width="0.6" opacity="0.8" filter="url(#bl03)"/>
<circle cx="481.5" cy="239.2" r="1.8" fill="#dcdcdc" stroke="#8a8a8a" stroke-width="0.6" opacity="0.8" filter="url(#bl03)"/>
<circle cx="437.6" cy="217.7" r="1.8" fill="#dcdcdc" stroke="#8a8a8a" stroke-width="0.6" opacity="0.8" filter="url(#bl03)"/>
<circle cx="505.2" cy="192.7" r="1.8" fill="#dcdcdc" stroke="#8a8a8a" stroke-width="0.6" opacity="0.8" filter="url(#bl03)"/>
<circle cx="527.6" cy="274.5" r="1.6" fill="#dcdcdc" stroke="#8a8a8a" stroke-width="0.6" opacity="0.8" filter="url(#bl03)"/>
<circle cx="619.1" cy="245.7" r="2.1" fill="#dcdcdc" stroke="#8a8a8a" stroke-width="0.6" opacity="0.8" filter="url(#bl03)"/>
<circle cx="619.3" cy="278.7" r="1.6" fill="#dcdcdc" stroke="#8a8a8a" stroke-width="0.6" opacity="0.8" filter="url(#bl03)"/>
<circle cx="569.7" cy="224.4" r="1.2" fill="#dcdcdc" stroke="#8a8a8a" stroke-width="0.6" opacity="0.8" filter="url(#bl03)"/>
<circle cx="636.7" cy="292.2" r="1.9" fill="#dcdcdc" stroke="#8a8a8a" stroke-width="0.6" opacity="0.8" filter="url(#bl03)"/>
<circle cx="630.5" cy="251.8" r="2.1" fill="#dcdcdc" stroke="#8a8a8a" stroke-width="0.6" opacity="0.8" filter="url(#bl03)"/>
<circle cx="536.5" cy="319.6" r="1.2" fill="#dcdcdc" stroke="#8a8a8a" stroke-width="0.6" opacity="0.8" filter="url(#bl03)"/>
<circle cx="513.4" cy="255.0" r="1.9" fill="#dcdcdc" stroke="#8a8a8a" stroke-width="0.6" opacity="0.8" filter="url(#bl03)"/>
<circle cx="548.1" cy="289.5" r="1.5" fill="#dcdcdc" stroke="#8a8a8a" stroke-width="0.6" opacity="0.8" filter="url(#bl03)"/>
<circle cx="586.2" cy="290.5" r="1.7" fill="#dcdcdc" stroke="#8a8a8a" stroke-width="0.6" opacity="0.8" filter="url(#bl03)"/>
<circle cx="426.4" cy="268.5" r="1.1" fill="#dcdcdc" stroke="#8a8a8a" stroke-width="0.6" opacity="0.8" filter="url(#bl03)"/>
<circle cx="495.0" cy="183.1" r="1.9" fill="#dcdcdc" stroke="#8a8a8a" stroke-width="0.6" opacity="0.8" filter="url(#bl03)"/>
<circle cx="462.3" cy="278.3" r="1.2" fill="#dcdcdc" stroke="#8a8a8a" stroke-width="0.6" opacity="0.8" filter="url(#bl03)"/>
<circle cx="471.7" cy="274.5" r="2.0" fill="#dcdcdc" stroke="#8a8a8a" stroke-width="0.6" opacity="0.8" filter="url(#bl03)"/>
<circle cx="438.7" cy="261.8" r="1.5" fill="#dcdcdc" stroke="#8a8a8a" stroke-width="0.6" opacity="0.8" filter="url(#bl03)"/>
<circle cx="572.7" cy="177.2" r="1.1" fill="#dcdcdc" stroke="#8a8a8a" stroke-width="0.6" opacity="0.8" filter="url(#bl03)"/>
<circle cx="440.5" cy="305.4" r="1.6" fill="#dcdcdc" stroke="#8a8a8a" stroke-width="0.6" opacity="0.8" filter="url(#bl03)"/>
<circle cx="570.4" cy="186.0" r="1.8" fill="#dcdcdc" stroke="#8a8a8a" stroke-width="0.6" opacity="0.8" filter="url(#bl03)"/>
<circle cx="640.7" cy="196.2" r="1.9" fill="#dcdcdc" stroke="#8a8a8a" stroke-width="0.6" opacity="0.8" filter="url(#bl03)"/>
<circle cx="627.9" cy="321.4" r="1.7" fill="#dcdcdc" stroke="#8a8a8a" stroke-width="0.6" opacity="0.8" filter="url(#bl03)"/>
<circle cx="578.4" cy="219.4" r="1.9" fill="#dcdcdc" stroke="#8a8a8a" stroke-width="0.6" opacity="0.8" filter="url(#bl03)"/>
<circle cx="496.9" cy="263.3" r="1.7" fill="#dcdcdc" stroke="#8a8a8a" stroke-width="0.6" opacity="0.8" filter="url(#bl03)"/>
<circle cx="662.2" cy="289.1" r="1.2" fill="#dcdcdc" stroke="#8a8a8a" stroke-width="0.6" opacity="0.8" filter="url(#bl03)"/>
<circle cx="464.4" cy="221.3" r="1.5" fill="#dcdcdc" stroke="#8a8a8a" stroke-width="0.6" opacity="0.8" filter="url(#bl03)"/>
<circle cx="595.8" cy="205.9" r="1.7" fill="#dcdcdc" stroke="#8a8a8a" stroke-width="0.6" opacity="0.8" filter="url(#bl03)"/>
<circle cx="531.4" cy="213.1" r="1.7" fill="#dcdcdc" stroke="#8a8a8a" stroke-width="0.6" opacity="0.8" filter="url(#bl03)"/>
<circle cx="527.0" cy="319.4" r="1.2" fill="#dcdcdc" stroke="#8a8a8a" stroke-width="0.6" opacity="0.8" filter="url(#bl03)"/>
<circle cx="640.2" cy="265.4" r="1.6" fill="#dcdcdc" stroke="#8a8a8a" stroke-width="0.6" opacity="0.8" filter="url(#bl03)"/>
<circle cx="440.3" cy="267.0" r="1.9" fill="#dcdcdc" stroke="#8a8a8a" stroke-width="0.6" opacity="0.8" filter="url(#bl03)"/>
<circle cx="506.5" cy="277.3" r="1.6" fill="#dcdcdc" stroke="#8a8a8a" stroke-width="0.6" opacity="0.8" filter="url(#bl03)"/>
<circle cx="443.3" cy="300.4" r="1.4" fill="#dcdcdc" stroke="#8a8a8a" stroke-width="0.6" opacity="0.8" filter="url(#bl03)"/>
<circle cx="538.3" cy="285.0" r="2.0" fill="#dcdcdc" stroke="#8a8a8a" stroke-width="0.6" opacity="0.8" filter="url(#bl03)"/>
<circle cx="629.2" cy="222.9" r="1.9" fill="#dcdcdc" stroke="#8a8a8a" stroke-width="0.6" opacity="0.8" filter="url(#bl03)"/>
<circle cx="458.5" cy="251.9" r="1.5" fill="#dcdcdc" stroke="#8a8a8a" stroke-width="0.6" opacity="0.8" filter="url(#bl03)"/>
<circle cx="632.2" cy="278.8" r="1.8" fill="#dcdcdc" stroke="#8a8a8a" stroke-width="0.6" opacity="0.8" filter="url(#bl03)"/>
<circle cx="618.7" cy="219.8" r="1.5" fill="#dcdcdc" stroke="#8a8a8a" stroke-width="0.6" opacity="0.8" filter="url(#bl03)"/>
<circle cx="446.3" cy="220.3" r="1.3" fill="#dcdcdc" stroke="#8a8a8a" stroke-width="0.6" opacity="0.8" filter="url(#bl03)"/>
<circle cx="599.4" cy="185.4" r="2.0" fill="#dcdcdc" stroke="#8a8a8a" stroke-width="0.6" opacity="0.8" filter="url(#bl03)"/>
<circle cx="567.5" cy="235.3" r="1.2" fill="#dcdcdc" stroke="#8a8a8a" stroke-width="0.6" opacity="0.8" filter="url(#bl03)"/>
<circle cx="530.0" cy="253.9" r="1.2" fill="#dcdcdc" stroke="#8a8a8a" stroke-width="0.6" opacity="0.8" filter="url(#bl03)"/>
<circle cx="659.1" cy="221.9" r="1.5" fill="#dcdcdc" stroke="#8a8a8a" stroke-width="0.6" opacity="0.8" filter="url(#bl03)"/>
<circle cx="490.7" cy="223.8" r="1.4" fill="#dcdcdc" stroke="#8a8a8a" stroke-width="0.6" opacity="0.8" filter="url(#bl03)"/>
<circle cx="629.3" cy="176.3" r="1.5" fill="#dcdcdc" stroke="#8a8a8a" stroke-width="0.6" opacity="0.8" filter="url(#bl03)"/>
<circle cx="566.8" cy="240.6" r="1.4" fill="#dcdcdc" stroke="#8a8a8a" stroke-width="0.6" opacity="0.8" filter="url(#bl03)"/>
<circle cx="539.2" cy="174.9" r="1.4" fill="#dcdcdc" stroke="#8a8a8a" stroke-width="0.6" opacity="0.8" filter="url(#bl03)"/>
<circle cx="527.3" cy="285.8" r="1.5" fill="#dcdcdc" stroke="#8a8a8a" stroke-width="0.6" opacity="0.8" filter="url(#bl03)"/>
<circle cx="522.4" cy="268.1" r="1.4" fill="#dcdcdc" stroke="#8a8a8a" stroke-width="0.6" opacity="0.8" filter="url(#bl03)"/>
<circle cx="555.3" cy="195.7" r="1.7" fill="#dcdcdc" stroke="#8a8a8a" stroke-width="0.6" opacity="0.8" filter="url(#bl03)"/>
<circle cx="552.6" cy="268.1" r="2.0" fill="#dcdcdc" stroke="#8a8a8a" stroke-width="0.6" opacity="0.8" filter="url(#bl03)"/>
<circle cx="614.9" cy="320.8" r="1.3" fill="#dcdcdc" stroke="#8a8a8a" stroke-width="0.6" opacity="0.8" filter="url(#bl03)"/>
<circle cx="653.6" cy="235.1" r="1.5" fill="#dcdcdc" stroke="#8a8a8a" stroke-width="0.6" opacity="0.8" filter="url(#bl03)"/>
<circle cx="532.1" cy="310.2" r="2.1" fill="#dcdcdc" stroke="#8a8a8a" stroke-width="0.6" opacity="0.8" filter="url(#bl03)"/>
<circle cx="617.3" cy="212.5" r="1.2" fill="#dcdcdc" stroke="#8a8a8a" stroke-width="0.6" opacity="0.8" filter="url(#bl03)"/>
<circle cx="470.9" cy="270.9" r="1.8" fill="#dcdcdc" stroke="#8a8a8a" stroke-width="0.6" opacity="0.8" filter="url(#bl03)"/>
<circle cx="437.3" cy="165.6" r="2.1" fill="#dcdcdc" stroke="#8a8a8a" stroke-width="0.6" opacity="0.8" filter="url(#bl03)"/>
<circle cx="503.6" cy="171.6" r="1.6" fill="#dcdcdc" stroke="#8a8a8a" stroke-width="0.6" opacity="0.8" filter="url(#bl03)"/>
<circle cx="445.1" cy="293.4" r="1.6" fill="#dcdcdc" stroke="#8a8a8a" stroke-width="0.6" opacity="0.8" filter="url(#bl03)"/>
<circle cx="570.4" cy="311.1" r="1.2" fill="#dcdcdc" stroke="#8a8a8a" stroke-width="0.6" opacity="0.8" filter="url(#bl03)"/>
</g>
<rect x="423.7" y="310.2" width="21.7" height="12.4" fill="#ebebeb"/>
<text x="426" y="313.6" font-family="Liberation Sans" font-size="3.6" font-weight="bold" fill="#333">1 µm</text>
<path d="M425.2,317.6 h19 M425.2,315.6 v4 M444.2,315.6 v4" stroke="#444" stroke-width="0.7" fill="none"/><path d="M447.0,477.2 L447.3,477.2 L447.7,477.2 L448.0,477.2 L448.3,477.2 L448.7,477.2 L449.0,477.2 L449.3,477.2 L449.7,477.2 L450.0,477.2 L450.3,477.2 L450.7,476.5 L451.0,475.9 L451.3,475.8 L451.7,473.5 L452.0,474.4 L452.3,473.9 L452.7,474.5 L453.0,472.2 L453.4,468.1 L453.7,467.2 L454.0,461.0 L454.4,453.1 L454.7,437.1 L455.0,414.6 L455.4,391.8 L455.7,363.4 L456.0,352.7 L456.4,357.8 L456.7,381.7 L457.0,408.1 L457.4,431.4 L457.7,449.2 L458.0,459.0 L458.4,465.6 L458.7,466.9 L459.0,470.3 L459.4,468.6 L459.7,468.5 L460.0,470.7 L460.4,465.7 L460.7,468.1 L461.0,466.7 L461.4,470.3 L461.7,469.8 L462.0,467.2 L462.4,462.6 L462.7,453.2 L463.0,440.8 L463.4,423.6 L463.7,403.0 L464.0,382.2 L464.4,366.6 L464.7,370.8 L465.1,380.6 L465.4,400.1 L465.7,425.8 L466.1,441.2 L466.4,451.8 L466.7,466.7 L467.1,467.2 L467.4,468.5 L467.7,470.7 L468.1,468.2 L468.4,469.4 L468.7,472.4 L469.1,467.5 L469.4,467.9 L469.7,467.3 L470.1,466.2 L470.4,468.4 L470.7,468.9 L471.1,471.7 L471.4,467.6 L471.7,469.9 L472.1,469.3 L472.4,470.7 L472.7,469.6 L473.1,468.0 L473.4,463.5 L473.7,469.5 L474.1,467.3 L474.4,462.5 L474.7,458.5 L475.1,458.7 L475.4,461.9 L475.7,460.2 L476.1,449.5 L476.4,444.2 L476.8,433.5 L477.1,413.4 L477.4,395.4 L477.8,381.4 L478.1,371.6 L478.4,371.2 L478.8,377.9 L479.1,394.5 L479.4,410.0 L479.8,422.3 L480.1,435.7 L480.4,436.2 L480.8,442.7 L481.1,448.2 L481.4,453.6 L481.8,445.3 L482.1,441.5 L482.4,460.6 L482.8,464.0 L483.1,463.2 L483.4,473.6 L483.8,456.0 L484.1,460.5 L484.4,463.5 L484.8,461.7 L485.1,460.4 L485.4,462.6 L485.8,458.5 L486.1,465.8 L486.4,464.8 L486.8,458.9 L487.1,463.0 L487.5,466.7 L487.8,459.3 L488.1,457.2 L488.5,465.0 L488.8,468.7 L489.1,463.7 L489.5,463.8 L489.8,464.4 L490.1,457.5 L490.5,467.3 L490.8,458.1 L491.1,468.3 L491.5,466.3 L491.8,460.6 L492.1,458.6 L492.5,459.7 L492.8,461.8 L493.1,462.6 L493.5,462.5 L493.8,460.8 L494.1,463.9 L494.5,462.0 L494.8,460.8 L495.1,463.2 L495.5,460.1 L495.8,460.9 L496.1,455.0 L496.5,461.8 L496.8,464.9 L497.1,464.7 L497.5,463.2 L497.8,459.4 L498.1,464.5 L498.5,461.6 L498.8,455.7 L499.2,473.5 L499.5,467.7 L499.8,462.2 L500.2,461.6 L500.5,462.2 L500.8,464.9 L501.2,460.5 L501.5,462.0 L501.8,465.3 L502.2,453.4 L502.5,461.7 L502.8,465.4 L503.2,463.6 L503.5,464.1 L503.8,463.4 L504.2,474.2 L504.5,465.1 L504.8,459.1 L505.2,467.9 L505.5,463.4 L505.8,459.3 L506.2,459.7 L506.5,457.1 L506.8,470.0 L507.2,464.6 L507.5,464.5 L507.8,460.6 L508.2,458.8 L508.5,474.0 L508.8,458.8 L509.2,469.0 L509.5,460.4 L509.8,469.2 L510.2,462.5 L510.5,458.3 L510.9,463.8 L511.2,462.4 L511.5,459.9 L511.9,462.5 L512.2,463.4 L512.5,456.6 L512.9,458.2 L513.2,462.8 L513.5,449.2 L513.9,463.1 L514.2,452.6 L514.5,455.2 L514.9,452.0 L515.2,449.2 L515.5,451.8 L515.9,451.9 L516.2,462.9 L516.5,465.1 L516.9,458.5 L517.2,466.2 L517.5,467.3 L517.9,469.6 L518.2,458.8 L518.5,461.1 L518.9,458.3 L519.2,468.1 L519.5,464.3 L519.9,469.0 L520.2,461.4 L520.5,458.1 L520.9,468.2 L521.2,458.4 L521.5,460.8 L521.9,465.6 L522.2,472.9 L522.6,459.3 L522.9,465.4 L523.2,467.6 L523.6,463.6 L523.9,463.6 L524.2,459.3 L524.6,469.5 L524.9,460.9 L525.2,459.5 L525.6,459.8 L525.9,466.4 L526.2,468.8 L526.6,461.7 L526.9,465.4 L527.2,465.5 L527.6,460.3 L527.9,467.2 L528.2,475.4 L528.6,467.8 L528.9,473.8 L529.2,463.1 L529.6,465.2 L529.9,469.0 L530.2,466.6 L530.6,463.3 L530.9,466.4 L531.2,461.5 L531.6,467.1 L531.9,462.8 L532.2,461.0 L532.6,460.6 L532.9,469.9 L533.2,463.7 L533.6,474.9 L533.9,471.7 L534.3,475.4 L534.6,463.2 L534.9,472.6 L535.3,467.7 L535.6,468.5 L535.9,467.9 L536.3,470.3 L536.6,467.0 L536.9,460.8 L537.3,467.9 L537.6,466.0 L537.9,464.2 L538.3,469.1 L538.6,473.4 L538.9,470.7 L539.3,464.2 L539.6,475.2 L539.9,471.0 L540.3,464.6 L540.6,465.6 L540.9,468.8 L541.3,465.7 L541.6,468.3 L541.9,473.8 L542.3,475.4 L542.6,471.8 L542.9,465.5 L543.3,471.6 L543.6,473.1 L543.9,472.6 L544.3,475.7 L544.6,470.1 L544.9,474.5 L545.3,468.3 L545.6,477.2 L546.0,468.6 L546.3,472.6 L546.6,477.2 L547.0,467.2 L547.3,471.3 L547.6,477.2 L548.0,473.6 L548.3,468.8 L548.6,471.8 L549.0,466.8 L549.3,466.8 L549.6,467.1 L550.0,468.4 L550.3,464.3 L550.6,467.0 L551.0,467.8 L551.3,477.2 L551.6,465.9 L552.0,464.2 L552.3,470.6 L552.6,471.2 L553.0,461.4 L553.3,476.3 L553.6,467.3 L554.0,459.3 L554.3,472.7 L554.6,466.0 L555.0,461.0 L555.3,468.8 L555.6,465.6 L556.0,463.7 L556.3,470.4 L556.7,466.4 L557.0,464.2 L557.3,461.4 L557.7,464.4 L558.0,464.8 L558.3,468.0 L558.7,465.5 L559.0,460.5 L559.3,463.6 L559.7,467.1 L560.0,466.5 L560.3,451.6 L560.7,456.9 L561.0,458.4 L561.3,471.2 L561.7,458.6 L562.0,459.9 L562.3,456.1 L562.7,462.4 L563.0,465.4 L563.3,463.9 L563.7,474.5 L564.0,462.9 L564.3,465.9 L564.7,470.2 L565.0,462.0 L565.3,460.0 L565.7,472.9 L566.0,469.9 L566.3,466.0 L566.7,466.4 L567.0,468.7 L567.3,471.5 L567.7,464.5 L568.0,466.9 L568.4,472.0 L568.7,472.3 L569.0,465.2 L569.4,466.5 L569.7,463.9 L570.0,464.5 L570.4,465.2 L570.7,457.1 L571.0,453.9 L571.4,438.3 L571.7,421.1 L572.0,402.7 L572.4,389.8 L572.7,377.1 L573.0,371.7 L573.4,376.0 L573.7,386.7 L574.0,403.4 L574.4,421.7 L574.7,434.8 L575.0,448.8 L575.4,459.6 L575.7,464.7 L576.0,466.4 L576.4,468.3 L576.7,468.4 L577.0,469.1 L577.4,468.8 L577.7,469.6 L578.0,472.1 L578.4,468.2 L578.7,466.4 L579.0,466.9 L579.4,466.6 L579.7,461.9 L580.1,460.1 L580.4,455.8 L580.7,444.7 L581.1,441.7 L581.4,435.7 L581.7,441.1 L582.1,448.2 L582.4,448.0 L582.7,443.1 L583.1,445.7 L583.4,444.3 L583.7,440.4 L584.1,438.3 L584.4,443.1 L584.7,450.7 L585.1,454.7 L585.4,461.8 L585.7,466.7 L586.1,466.9 L586.4,465.2 L586.7,467.0 L587.1,466.9 L587.4,471.8 L587.7,469.6 L588.1,467.6 L588.4,469.9 L588.7,466.5 L589.1,466.7 L589.4,464.0 L589.7,463.2 L590.1,452.5 L590.4,451.4 L590.7,453.1 L591.1,454.1 L591.4,452.4 L591.8,463.5 L592.1,464.1 L592.4,465.8 L592.8,468.9 L593.1,471.9 L593.4,468.9 L593.8,468.5 L594.1,466.7 L594.4,467.5 L594.8,469.2 L595.1,467.4 L595.4,468.1 L595.8,468.8 L596.1,469.2 L596.4,469.9 L596.8,467.7 L597.1,471.7 L597.4,473.4 L597.8,471.9 L598.1,475.3 L598.4,472.9 L598.8,476.5 L599.1,473.5 L599.4,470.6 L599.8,470.6 L600.1,472.1 L600.4,472.5 L600.8,475.2 L601.1,467.8 L601.4,470.8 L601.8,469.4 L602.1,473.9 L602.4,472.4 L602.8,476.1 L603.1,470.2 L603.5,469.8 L603.8,476.3 L604.1,472.1 L604.5,470.5 L604.8,476.0 L605.1,476.1 L605.5,474.4 L605.8,473.4 L606.1,475.1 L606.5,471.9 L606.8,471.4 L607.1,470.5 L607.5,470.3 L607.8,468.5 L608.1,469.3 L608.5,474.9 L608.8,473.1 L609.1,474.4 L609.5,474.4 L609.8,472.1 L610.1,471.9 L610.5,470.8 L610.8,475.6 L611.1,474.8 L611.5,472.0 L611.8,472.4 L612.1,472.6 L612.5,472.1 L612.8,473.7 L613.1,470.3 L613.5,471.1 L613.8,472.1 L614.1,473.5 L614.5,472.3 L614.8,477.2 L615.2,474.2 L615.5,471.8 L615.8,475.4 L616.2,471.5 L616.5,471.6 L616.8,475.1 L617.2,472.5 L617.5,472.7 L617.8,470.9 L618.2,470.5 L618.5,472.0 L618.8,473.9 L619.2,472.3 L619.5,472.1 L619.8,470.3 L620.2,471.3 L620.5,473.6 L620.8,475.0 L621.2,472.8 L621.5,473.6 L621.8,474.5 L622.2,472.2 L622.5,473.1 L622.8,471.7 L623.2,470.7 L623.5,472.9 L623.8,466.6 L624.2,472.7 L624.5,469.4 L624.8,471.7 L625.2,469.4 L625.5,477.2 L625.9,473.6 L626.2,471.4 L626.5,470.6 L626.9,466.6 L627.2,471.2 L627.5,469.0 L627.9,470.2 L628.2,469.8 L628.5,470.8 L628.9,472.3 L629.2,470.8 L629.5,474.4 L629.9,469.2 L630.2,474.3 L630.5,471.4 L630.9,467.1 L631.2,472.4 L631.5,471.9 L631.9,469.3 L632.2,471.9 L632.5,473.8 L632.9,471.3 L633.2,470.6 L633.5,470.3 L633.9,473.7 L634.2,467.9 L634.5,468.1 L634.9,471.9 L635.2,471.3 L635.5,472.9 L635.9,468.7 L636.2,473.5 L636.5,470.4 L636.9,473.0 L637.2,473.5 L637.6,470.3 L637.9,468.9 L638.2,472.0 L638.6,473.5 L638.9,470.1 L639.2,472.0 L639.6,471.2 L639.9,468.5 L640.2,469.4 L640.6,473.1 L640.9,466.7 L641.2,471.9 L641.6,470.1 L641.9,473.4 L642.2,472.0 L642.6,475.9 L642.9,467.9 L643.2,468.8 L643.6,474.7 L643.9,475.4 L644.2,475.6 L644.6,469.3 L644.9,473.0 L645.2,472.1 L645.6,472.6 L645.9,472.2 L646.2,474.4 L646.6,471.9 L646.9,475.2 L647.2,472.1 L647.6,471.2 L647.9,470.9 L648.2,472.5 L648.6,474.0 L648.9,471.6 L649.3,473.0 L649.6,468.4 L649.9,470.2 L650.3,472.2 L650.6,473.0 L650.9,473.5 L651.3,474.1 L651.6,472.7 L651.9,471.3 L652.3,470.8 L652.6,470.6 L652.9,467.1 L653.3,473.5 L653.6,471.9 L653.9,465.6 L654.3,476.2 L654.6,473.1 L654.9,471.5 L655.3,471.6 L655.6,471.0 L655.9,472.5 L656.3,471.1 L656.6,471.8 L656.9,470.2 L657.3,476.3 L657.6,473.9 L657.9,468.0 L658.3,458.5 L658.6,470.4 L658.9,470.4 L659.3,473.4 L659.6,470.5 L659.9,470.2 L660.3,471.2 L660.6,470.8 L661.0,472.2 L661.3,475.1 L661.6,472.0 L662.0,470.9 L662.3,473.1 L662.6,472.2 L663.0,470.2 L663.3,473.9 L663.6,470.5 L664.0,467.7 L664.3,473.2 L664.6,471.6 L665.0,472.3 L665.3,468.4 L665.6,471.2 L666.0,469.9 L666.3,473.5 L666.6,472.0 L667.0,472.0 L667.3,476.0 L667.6,468.6 L668.0,469.9 L668.3,475.9 L668.6,470.2 L669.0,472.2 L669.3,470.9 L669.6,471.1 L670.0,475.4 L670.3,472.4 L670.6,468.5 L671.0,473.2 L671.3,474.3 L671.6,475.0 L672.0,474.7 L672.3,471.2 L672.7,468.1 L673.0,471.0 L673.3,471.4 L673.7,466.8 L674.0,473.1 L674.3,473.5 L674.7,470.7 L675.0,470.7 L675.3,474.3 L675.7,474.6 L676.0,471.3 L676.3,471.4 L676.7,474.9 L677.0,472.4 L677.3,473.2 L677.7,470.9 L678.0,472.2 L678.3,472.1 L678.7,472.7 L679.0,469.5 L679.3,468.8 L679.7,472.8 L680.0,470.0 L680.3,473.7 L680.7,471.8 L681.0,470.2" fill="none" stroke="#404040" stroke-width="0.95" stroke-linejoin="round" filter="url(#blurS)"/>
<line x1="446.8" y1="347" x2="446.8" y2="477.6" stroke="#8a8a8a" stroke-width="1"/>
<line x1="446.3" y1="477.4" x2="681.5" y2="477.4" stroke="#8a8a8a" stroke-width="1"/>
<line x1="443" y1="477.2" x2="446.8" y2="477.2" stroke="#777" stroke-width="0.8"/>
<text x="441" y="478.8" font-family="Liberation Serif" font-size="5.0" font-weight="bold" text-anchor="end" fill="#333">0</text>
<line x1="443" y1="459.6" x2="446.8" y2="459.6" stroke="#777" stroke-width="0.8"/>
<text x="441" y="461.2" font-family="Liberation Serif" font-size="5.0" font-weight="bold" text-anchor="end" fill="#333">10</text>
<line x1="443" y1="442.1" x2="446.8" y2="442.1" stroke="#777" stroke-width="0.8"/>
<text x="441" y="443.7" font-family="Liberation Serif" font-size="5.0" font-weight="bold" text-anchor="end" fill="#333">20</text>
<line x1="443" y1="424.6" x2="446.8" y2="424.6" stroke="#777" stroke-width="0.8"/>
<text x="441" y="426.2" font-family="Liberation Serif" font-size="5.0" font-weight="bold" text-anchor="end" fill="#333">30</text>
<line x1="443" y1="407.0" x2="446.8" y2="407.0" stroke="#777" stroke-width="0.8"/>
<text x="441" y="408.6" font-family="Liberation Serif" font-size="5.0" font-weight="bold" text-anchor="end" fill="#333">40</text>
<line x1="443" y1="389.4" x2="446.8" y2="389.4" stroke="#777" stroke-width="0.8"/>
<text x="441" y="391.1" font-family="Liberation Serif" font-size="5.0" font-weight="bold" text-anchor="end" fill="#333">50</text>
<line x1="443" y1="371.9" x2="446.8" y2="371.9" stroke="#777" stroke-width="0.8"/>
<text x="441" y="373.5" font-family="Liberation Serif" font-size="5.0" font-weight="bold" text-anchor="end" fill="#333">60</text>
<line x1="443" y1="354.4" x2="446.8" y2="354.4" stroke="#777" stroke-width="0.8"/>
<text x="441" y="356.0" font-family="Liberation Serif" font-size="5.0" font-weight="bold" text-anchor="end" fill="#333">70</text>
<line x1="447.0" y1="477.4" x2="447.0" y2="479.5" stroke="#777" stroke-width="0.8"/>
<text x="447.5" y="483.2" font-family="Liberation Serif" font-size="5.0" font-weight="bold" text-anchor="middle" fill="#333">0</text>
<line x1="480.4" y1="477.4" x2="480.4" y2="479.5" stroke="#777" stroke-width="0.8"/>
<text x="480.9" y="483.2" font-family="Liberation Serif" font-size="5.0" font-weight="bold" text-anchor="middle" fill="#333">1</text>
<line x1="513.9" y1="477.4" x2="513.9" y2="479.5" stroke="#777" stroke-width="0.8"/>
<text x="514.4" y="483.2" font-family="Liberation Serif" font-size="5.0" font-weight="bold" text-anchor="middle" fill="#333">2</text>
<line x1="547.3" y1="477.4" x2="547.3" y2="479.5" stroke="#777" stroke-width="0.8"/>
<text x="547.8" y="483.2" font-family="Liberation Serif" font-size="5.0" font-weight="bold" text-anchor="middle" fill="#333">3</text>
<line x1="580.7" y1="477.4" x2="580.7" y2="479.5" stroke="#777" stroke-width="0.8"/>
<text x="581.2" y="483.2" font-family="Liberation Serif" font-size="5.0" font-weight="bold" text-anchor="middle" fill="#333">4</text>
<line x1="614.1" y1="477.4" x2="614.1" y2="479.5" stroke="#777" stroke-width="0.8"/>
<text x="614.6" y="483.2" font-family="Liberation Serif" font-size="5.0" font-weight="bold" text-anchor="middle" fill="#333">5</text>
<line x1="647.6" y1="477.4" x2="647.6" y2="479.5" stroke="#777" stroke-width="0.8"/>
<text x="648.1" y="483.2" font-family="Liberation Serif" font-size="5.0" font-weight="bold" text-anchor="middle" fill="#333">6</text>
<line x1="681.0" y1="477.4" x2="681.0" y2="479.5" stroke="#777" stroke-width="0.8"/>
<text x="681.5" y="483.2" font-family="Liberation Serif" font-size="5.0" font-weight="bold" text-anchor="middle" fill="#333">7</text>
<text x="616.7" y="488.2" font-family="Liberation Serif" font-size="4.6" font-weight="bold" text-anchor="middle" fill="#333">keV</text>
<text x="421.2" y="488" font-family="Liberation Serif" font-size="4.6" font-weight="bold" fill="#333" textLength="29.5" lengthAdjust="spacingAndGlyphs">Min: 1 : 10</text>
<text x="416.2" y="342.4" font-family="Liberation Serif" font-size="5.2" font-weight="bold" fill="#222" textLength="66" lengthAdjust="spacingAndGlyphs">Skalierung.: Counts: 72</text>
<text x="456.4" y="350.9" font-family="Liberation Serif" font-size="5.0" font-weight="bold" text-anchor="middle" fill="#222" textLength="4.5" lengthAdjust="spacingAndGlyphs">C</text>
<text x="464.4" y="364.5" font-family="Liberation Serif" font-size="5.0" font-weight="bold" text-anchor="middle" fill="#222" textLength="4.5" lengthAdjust="spacingAndGlyphs">O</text>
<text x="478.7" y="368.4" font-family="Liberation Serif" font-size="5.0" font-weight="bold" text-anchor="middle" fill="#222" textLength="7.2" lengthAdjust="spacingAndGlyphs">Cu</text>
<text x="516.2" y="448.6" font-family="Liberation Serif" font-size="5.0" font-weight="bold" text-anchor="middle" fill="#222" textLength="6.0" lengthAdjust="spacingAndGlyphs">Pr</text>
<text x="573.8" y="371.2" font-family="Liberation Serif" font-size="5.0" font-weight="bold" text-anchor="middle" fill="#222" textLength="6.5" lengthAdjust="spacingAndGlyphs">Te</text>
<text x="582.6" y="428.6" font-family="Liberation Serif" font-size="5.0" font-weight="bold" text-anchor="middle" fill="#222" textLength="6.5" lengthAdjust="spacingAndGlyphs">Te</text>
</g>
</svg>
</body></html>
